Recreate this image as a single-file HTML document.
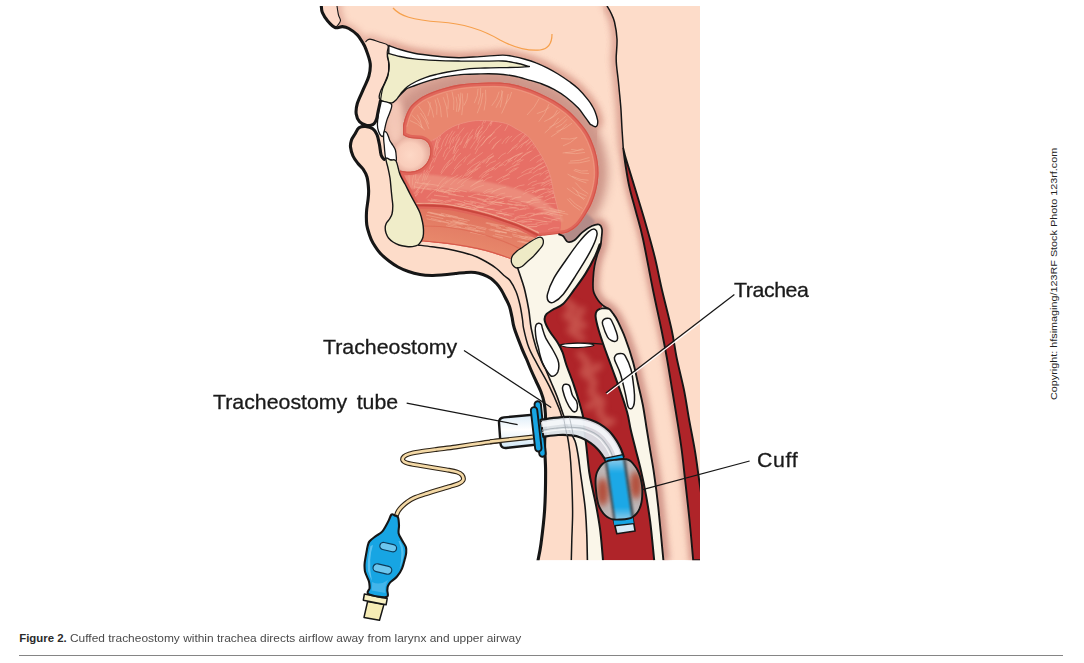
<!DOCTYPE html>
<html><head><meta charset="utf-8"><title>Figure 2</title>
<style>
html,body{margin:0;padding:0;background:#fff;}
body{width:1084px;height:663px;position:relative;overflow:hidden;font-family:"Liberation Sans",sans-serif;}
.lbl{position:absolute;white-space:nowrap;color:#1a1a1a;font-size:20.4px;line-height:1;transform-origin:0 0;transform:scaleX(1.045);-webkit-text-stroke:.3px #1a1a1a;}
.cap{position:absolute;top:632.9px;font-size:11.4px;line-height:1;color:#4a4a4a;white-space:nowrap;transform-origin:0 0;}
.rule{position:absolute;left:19px;top:655px;width:1044px;height:1px;background:#858585;}
.copy{position:absolute;left:1049.1px;top:400.3px;font-size:9.6px;line-height:1;color:#222;white-space:nowrap;transform-origin:0 0;transform:rotate(-90deg) scaleX(1.126);}
</style></head><body>
<svg width="1084" height="663" viewBox="0 0 1084 663" style="position:absolute;left:0;top:0">
<defs>
<clipPath id="cf"><rect x="300" y="6" width="400" height="554.3"/></clipPath>
<clipPath id="cP"><path d="M337 -12 L337 6C337.2 7.5 337.9 12.6 338.5 15C339.1 17.4 340.6 18.8 340.5 20.5C340.4 22.2 338.9 23.8 338 25C337.1 26.2 335.5 27.1 335 27.5C336.2 27.4 340.2 26.4 342.5 26.6C344.8 26.8 346.3 27.1 348.8 28.5C351.3 29.9 355 32.6 357.3 34.9C359.6 37.2 361.6 41.1 362.5 42.3L365.5 42C365.8 41.7 366.6 40.5 367.5 40C368.4 39.5 368.9 38.9 371 39.3C373.1 39.7 377.2 41.2 380 42.2C382.8 43.2 386.6 44.9 387.9 45.4L388.8 45.5C390.7 46.2 395.8 48.2 400 49.5C404.2 50.8 408.5 52.1 414.3 53.2C420.1 54.3 427.6 55.2 435 56C442.4 56.8 451.1 57.6 458.6 57.7C466.1 57.8 472.6 57 480 56.6C487.4 56.2 497.1 55.1 502.8 55.1C508.5 55.1 510.3 55.9 514 56.6C517.7 57.3 521.3 58.2 525 59.2C528.7 60.2 532.3 61.3 536 62.8C539.7 64.2 543.4 66 547.1 67.9C550.8 69.8 554.3 71.7 558 74C561.7 76.3 565.8 79 569.2 81.5C572.6 84 575.2 85.8 578.3 88.8C581.4 91.8 585.5 96.6 587.9 99.6C590.3 102.5 591.3 104.5 592.5 106.5C593.7 108.5 594.2 109.4 595.1 111.7C596 114 597.2 117.9 597.6 120.1C598 122.3 597.6 123.9 597.3 125C596.9 126.1 596.2 126.6 595.5 126.7C594.8 126.8 593.9 126.2 593 125.8C592.1 125.4 590.8 124.6 590.3 124.4L597.7 161.7C597.8 164.1 598.6 171.2 598.4 176C598.1 180.8 597.4 185.6 596.2 190.3C595.1 195 593.4 199.7 591.5 204C589.6 208.3 585.9 214.1 584.8 216.1C583.7 217.6 580.8 222.6 578 225.3C575.2 228 571.5 230.7 568.2 232.2C564.9 233.7 560 233.8 558.4 234.1C559.2 234.4 561.9 235.2 563 236C564.1 236.8 564.2 237.8 565 238.8C565.8 239.8 566.4 241.8 568 242C569.6 242.2 572 241.9 574.4 240.3C576.8 238.7 579.4 234.8 582.3 232.4C585.2 230 589 227.3 591.8 226C594.6 224.7 597.3 223.9 599 224.5C600.7 225.1 601.6 227.1 602 229.3C602.4 231.6 601.6 236.6 601.5 238C601.3 239.3 601.2 243.2 600.5 246C599.8 248.8 598.4 251.3 597.4 254.6C596.4 257.9 595.2 262.1 594.5 266C593.8 269.9 593.4 274.1 593.2 278.3C593 282.5 592.6 287.3 593.4 291C594.2 294.7 596.6 298.1 598.2 300.5C599.8 302.9 601.3 304.1 603 305.5C604.7 306.9 607.6 308.2 608.5 308.7C609.2 309.5 611.5 311.5 613 313.5C614.5 315.5 615.4 316.4 617.4 320.5C619.4 324.6 622.6 331.1 625.2 338C627.8 344.9 630.9 354.2 633 361.7C635.1 369.2 636.3 376 637.9 383.2C639.5 390.4 641.4 397.5 642.8 404.8C644.2 412.1 645.2 419.4 646.4 427C647.6 434.6 648.9 442.4 650.2 450.4C651.5 458.4 652.9 465.3 654.2 474.8C655.6 484.3 656.8 493.1 658.3 507.4C659.8 521.6 662.5 551.5 663.4 560.3L664 580 L694 580 L693.2 560.3C692.6 553.6 690.9 533.5 689.5 520C688.1 506.4 686.3 490.7 685 479C683.7 467.3 683 460 681.7 450C680.4 440 678.6 429 677 419C675.4 409 673.9 400.3 672.2 390C670.5 379.7 668.5 367 666.7 357C664.9 347 663.8 341.2 661.5 330C659.2 318.8 656.1 305.2 653 290C649.9 274.8 645.8 252 643 239C640.2 226 638.3 220.7 636 212C633.7 203.3 631.1 194.8 629.4 187C627.6 179.2 626.5 171.4 625.5 165C624.5 158.6 623.7 151.3 623.3 148.6C623.1 145.3 622.4 135.4 622 129C621.6 122.6 621.4 116.2 621 110C620.6 103.8 619.9 97.3 619.4 92C618.9 86.7 618.5 82.3 618 78C617.5 73.7 616.9 69.5 616.6 66C616.3 62.5 616.1 61.5 616.2 57C616.3 52.5 617.3 44.8 617 39C616.7 33.2 615.5 26.3 614.5 22C613.5 17.7 612.2 15.7 611 13C609.8 10.3 607.7 7.2 607 6L607 -12Z"/></clipPath>
<clipPath id="cO"><path d="M392 102L406.5 88.8C407.9 88.2 411.9 86.7 415 85.5C418.1 84.3 421.8 82.9 425.3 81.8C428.8 80.7 432.3 79.7 436 78.8C439.7 77.9 442.8 77.1 447.5 76.4C452.2 75.7 458.5 74.8 464 74.4C469.5 74 475.2 74 480.7 73.9C486.2 73.8 491.5 73.7 497 74C502.5 74.3 508.4 75 513.9 76C519.4 77 525.3 79 530 80.3C534.7 81.6 538 82.5 542 84C546 85.5 550 87.2 554 89.4C558 91.6 562.2 94.1 566.2 97.2C570.2 100.3 575.1 104.7 578.3 108.1C581.5 111.5 583.5 115 585.5 117.7C587.5 120.4 589.5 123.3 590.3 124.4L597.3 125 L596.5 150 L590 165 L584 200 L570 228 L538 236L430 175 L400 172 L396 160 L390 141 L384 132 L387 117 Z"/></clipPath>
<clipPath id="cPO"><path d="M337 -12 L337 6C337.2 7.5 337.9 12.6 338.5 15C339.1 17.4 340.6 18.8 340.5 20.5C340.4 22.2 338.9 23.8 338 25C337.1 26.2 335.5 27.1 335 27.5C336.2 27.4 340.2 26.4 342.5 26.6C344.8 26.8 346.3 27.1 348.8 28.5C351.3 29.9 355 32.6 357.3 34.9C359.6 37.2 361.6 41.1 362.5 42.3L365.5 42C365.8 41.7 366.6 40.5 367.5 40C368.4 39.5 368.9 38.9 371 39.3C373.1 39.7 377.2 41.2 380 42.2C382.8 43.2 386.6 44.9 387.9 45.4L388.8 45.5C390.7 46.2 395.8 48.2 400 49.5C404.2 50.8 408.5 52.1 414.3 53.2C420.1 54.3 427.6 55.2 435 56C442.4 56.8 451.1 57.6 458.6 57.7C466.1 57.8 472.6 57 480 56.6C487.4 56.2 497.1 55.1 502.8 55.1C508.5 55.1 510.3 55.9 514 56.6C517.7 57.3 521.3 58.2 525 59.2C528.7 60.2 532.3 61.3 536 62.8C539.7 64.2 543.4 66 547.1 67.9C550.8 69.8 554.3 71.7 558 74C561.7 76.3 565.8 79 569.2 81.5C572.6 84 575.2 85.8 578.3 88.8C581.4 91.8 585.5 96.6 587.9 99.6C590.3 102.5 591.3 104.5 592.5 106.5C593.7 108.5 594.2 109.4 595.1 111.7C596 114 597.2 117.9 597.6 120.1C598 122.3 597.6 123.9 597.3 125C596.9 126.1 596.2 126.6 595.5 126.7C594.8 126.8 593.9 126.2 593 125.8C592.1 125.4 590.8 124.6 590.3 124.4L597.7 161.7C597.8 164.1 598.6 171.2 598.4 176C598.1 180.8 597.4 185.6 596.2 190.3C595.1 195 593.4 199.7 591.5 204C589.6 208.3 585.9 214.1 584.8 216.1C583.7 217.6 580.8 222.6 578 225.3C575.2 228 571.5 230.7 568.2 232.2C564.9 233.7 560 233.8 558.4 234.1C559.2 234.4 561.9 235.2 563 236C564.1 236.8 564.2 237.8 565 238.8C565.8 239.8 566.4 241.8 568 242C569.6 242.2 572 241.9 574.4 240.3C576.8 238.7 579.4 234.8 582.3 232.4C585.2 230 589 227.3 591.8 226C594.6 224.7 597.3 223.9 599 224.5C600.7 225.1 601.6 227.1 602 229.3C602.4 231.6 601.6 236.6 601.5 238C601.3 239.3 601.2 243.2 600.5 246C599.8 248.8 598.4 251.3 597.4 254.6C596.4 257.9 595.2 262.1 594.5 266C593.8 269.9 593.4 274.1 593.2 278.3C593 282.5 592.6 287.3 593.4 291C594.2 294.7 596.6 298.1 598.2 300.5C599.8 302.9 601.3 304.1 603 305.5C604.7 306.9 607.6 308.2 608.5 308.7C609.2 309.5 611.5 311.5 613 313.5C614.5 315.5 615.4 316.4 617.4 320.5C619.4 324.6 622.6 331.1 625.2 338C627.8 344.9 630.9 354.2 633 361.7C635.1 369.2 636.3 376 637.9 383.2C639.5 390.4 641.4 397.5 642.8 404.8C644.2 412.1 645.2 419.4 646.4 427C647.6 434.6 648.9 442.4 650.2 450.4C651.5 458.4 652.9 465.3 654.2 474.8C655.6 484.3 656.8 493.1 658.3 507.4C659.8 521.6 662.5 551.5 663.4 560.3L664 580 L694 580 L693.2 560.3C692.6 553.6 690.9 533.5 689.5 520C688.1 506.4 686.3 490.7 685 479C683.7 467.3 683 460 681.7 450C680.4 440 678.6 429 677 419C675.4 409 673.9 400.3 672.2 390C670.5 379.7 668.5 367 666.7 357C664.9 347 663.8 341.2 661.5 330C659.2 318.8 656.1 305.2 653 290C649.9 274.8 645.8 252 643 239C640.2 226 638.3 220.7 636 212C633.7 203.3 631.1 194.8 629.4 187C627.6 179.2 626.5 171.4 625.5 165C624.5 158.6 623.7 151.3 623.3 148.6C623.1 145.3 622.4 135.4 622 129C621.6 122.6 621.4 116.2 621 110C620.6 103.8 619.9 97.3 619.4 92C618.9 86.7 618.5 82.3 618 78C617.5 73.7 616.9 69.5 616.6 66C616.3 62.5 616.1 61.5 616.2 57C616.3 52.5 617.3 44.8 617 39C616.7 33.2 615.5 26.3 614.5 22C613.5 17.7 612.2 15.7 611 13C609.8 10.3 607.7 7.2 607 6L607 -12Z"/><path d="M392 102L406.5 88.8C407.9 88.2 411.9 86.7 415 85.5C418.1 84.3 421.8 82.9 425.3 81.8C428.8 80.7 432.3 79.7 436 78.8C439.7 77.9 442.8 77.1 447.5 76.4C452.2 75.7 458.5 74.8 464 74.4C469.5 74 475.2 74 480.7 73.9C486.2 73.8 491.5 73.7 497 74C502.5 74.3 508.4 75 513.9 76C519.4 77 525.3 79 530 80.3C534.7 81.6 538 82.5 542 84C546 85.5 550 87.2 554 89.4C558 91.6 562.2 94.1 566.2 97.2C570.2 100.3 575.1 104.7 578.3 108.1C581.5 111.5 583.5 115 585.5 117.7C587.5 120.4 589.5 123.3 590.3 124.4L597.3 125 L596.5 150 L590 165 L584 200 L570 228 L538 236L430 175 L400 172 L396 160 L390 141 L384 132 L387 117 Z"/></clipPath>
<clipPath id="cT"><path d="M403 125.5C403.5 123.9 404.6 118.8 405.8 115.8C407 112.8 408.1 109.8 410 107.2C411.9 104.6 414.6 102.2 417.5 100C420.4 97.8 422.9 96.2 427.2 94.3C431.4 92.4 437.3 90.2 443 88.5C448.7 86.8 454.9 85.3 461.6 84.3C468.3 83.3 475.8 82.9 483 82.7C490.2 82.5 498.1 82.2 504.6 82.9C511.1 83.6 516.3 85 522 86.7C527.7 88.4 533.7 90.6 539 92.9C544.3 95.2 549.2 97.7 554 100.6C558.8 103.5 563.5 106.7 567.6 110.1C571.7 113.5 575.1 117 578.5 120.8C581.9 124.6 585.1 128.6 587.7 133C590.3 137.4 592.3 142.2 594 147C595.7 151.8 597 156.9 597.7 161.7C598.4 166.5 598.6 171.2 598.4 176C598.1 180.8 597.4 185.6 596.2 190.3C595.1 195 593.4 199.7 591.5 204C589.6 208.3 585.9 214.1 584.8 216.1C583.7 217.6 580.8 222.6 578 225.3C575.2 228 571.5 230.7 568.2 232.2C564.9 233.7 561.4 233.6 558.4 234.1C555.4 234.6 552.6 234.7 550 235C547.4 235.3 544.8 235.6 542.8 235.8C540.8 236 538.8 236.1 538 236.2L523 247 L511 259C507.3 258.1 499.5 255.2 494 253.5C488.5 251.8 482.3 250.2 477 249C471.7 247.8 466.9 247 462 246.2C457.1 245.4 452 244.6 447.5 244C443 243.4 439.4 243.1 435 242.7C430.6 242.3 423.3 241.7 421 241.5C421.3 240.8 422.6 238.9 423 237C423.4 235.1 423.6 232.5 423.5 230C423.4 227.5 423.1 224.8 422.5 222C421.9 219.2 421.1 215.8 420 213C418.9 210.2 417.7 208.2 416 205C414.3 201.8 411.8 197.5 410 194C408.2 190.5 406.7 187.2 405 184C403.3 180.8 400.8 176.1 400 174.5L400 170.5C400.8 170.7 403 171.3 405 171.5C407 171.7 409.8 171.8 412 171.5C414.2 171.2 416.1 170.8 418 170C419.9 169.2 422 167.8 423.5 166.5C425 165.2 426 164.1 427 162.5C428 160.9 428.9 158.8 429.5 157C430.1 155.2 430.2 153.7 430.3 152C430.4 150.3 430.4 148.7 429.8 147C429.2 145.3 428.4 143.3 427 142C425.6 140.7 424.3 139.7 421.5 139C418.7 138.3 413.1 138.7 410 138C406.9 137.3 404.2 135.5 403 135L403 125.5Z"/></clipPath>
<clipPath id="cTB"><path d="M403 125.5C403.5 123.9 404.6 118.8 405.8 115.8C407 112.8 408.1 109.8 410 107.2C411.9 104.6 414.6 102.2 417.5 100C420.4 97.8 422.9 96.2 427.2 94.3C431.4 92.4 437.3 90.2 443 88.5C448.7 86.8 454.9 85.3 461.6 84.3C468.3 83.3 475.8 82.9 483 82.7C490.2 82.5 498.1 82.2 504.6 82.9C511.1 83.6 516.3 85 522 86.7C527.7 88.4 533.7 90.6 539 92.9C544.3 95.2 549.2 97.7 554 100.6C558.8 103.5 563.5 106.7 567.6 110.1C571.7 113.5 575.1 117 578.5 120.8C581.9 124.6 585.1 128.6 587.7 133C590.3 137.4 592.3 142.2 594 147C595.7 151.8 597 156.9 597.7 161.7C598.4 166.5 598.6 171.2 598.4 176C598.1 180.8 597.4 185.6 596.2 190.3C595.1 195 593.4 199.7 591.5 204C589.6 208.3 585.9 214.1 584.8 216.1C583.7 217.6 580.8 222.6 578 225.3C575.2 228 571.5 230.7 568.2 232.2C564.9 233.7 561.8 233.6 558.4 234.1C555 234.6 551.4 235.1 548 235.3C544.6 235.5 542.3 236.8 538 235.5C533.7 234.2 527.3 229.7 522 227.4C516.7 225.1 511.8 223.5 506 221.5C500.2 219.5 493.5 217.2 487 215.3C480.5 213.4 473.2 211.7 467 210.3C460.8 208.9 455.8 207.8 450 207C444.2 206.2 437.6 205.8 432 205.6C426.4 205.3 419.1 205.5 416.5 205.5L410 194 L400 174.5 L400 170.5C400.8 170.7 403 171.3 405 171.5C407 171.7 409.8 171.8 412 171.5C414.2 171.2 416.1 170.8 418 170C419.9 169.2 422 167.8 423.5 166.5C425 165.2 426 164.1 427 162.5C428 160.9 428.9 158.8 429.5 157C430.1 155.2 430.2 153.7 430.3 152C430.4 150.3 430.4 148.7 429.8 147C429.2 145.3 428.4 143.3 427 142C425.6 140.7 424.3 139.7 421.5 139C418.7 138.3 413.1 138.7 410 138C406.9 137.3 404.2 135.5 403 135L403 125.5Z"/></clipPath>
<clipPath id="cTI"><path d="M429.8 152C429.6 150.6 427.3 145.8 428.6 143.3C429.9 140.9 434.9 139.3 437.7 137.3C440.5 135.3 442.7 133.1 445.2 131.3C447.7 129.5 449.8 128.1 452.8 126.7C455.8 125.3 459.5 124 463.3 123C467.1 122 470.9 121 475.4 120.7C479.9 120.4 485.5 120.5 490.5 121C495.5 121.5 501.2 122.1 505.5 123.4C509.8 124.7 512.3 126.6 516 128.7C519.7 130.8 524.1 132.8 527.5 135.9C530.9 139 533.2 143 536.1 147.3C539 151.6 542.3 156.9 544.7 161.7C547.1 166.5 549 171.2 550.4 176C551.8 180.8 552.3 186 553.3 190.3C554.2 194.6 555.1 198 556.1 201.8C557.1 205.6 558.5 211.3 559 213.2C559.3 215 561.1 220.5 561 224C560.9 227.5 560.6 232.2 558.4 234.1C556.2 236 551.4 235.1 548 235.3C544.6 235.5 542.3 236.8 538 235.5C533.7 234.2 527.3 229.7 522 227.4C516.7 225.1 511.8 223.5 506 221.5C500.2 219.5 493.5 217.2 487 215.3C480.5 213.4 473.2 211.7 467 210.3C460.8 208.9 455.8 207.8 450 207C444.2 206.2 437.6 205.8 432 205.6C426.4 205.3 419.1 205.5 416.5 205.5L410 194 L400 174.5 L400 170.5C400.8 170.7 403 171.3 405 171.5C407 171.7 409.8 171.8 412 171.5C414.2 171.2 416.1 170.8 418 170C419.9 169.2 422 167.8 423.5 166.5C425 165.2 426 164.1 427 162.5C428 160.9 428.9 158.8 429.5 157C430.1 155.2 430.2 153.7 430.3 152C430.4 150.3 429.9 147.8 429.8 147Z"/></clipPath>
<clipPath id="cL"><path d="M600 243.5C599.2 245.6 597.4 251.2 595 256.2C592.6 261.2 588.9 268.1 585.5 273.6C582.1 279.1 578.1 284.4 574.4 289.4C570.7 294.4 567 300.3 563.3 303.7C559.6 307.1 555.2 308.1 552.3 310C549.4 311.9 547.1 313 545.9 314.8C544.6 316.6 544.2 318.4 544.8 321C545.4 323.6 547.1 327.1 549.3 330.7C551.4 334.3 555.5 339.1 557.7 342.7C559.9 346.3 561.2 348.7 562.6 352.4C564 356.1 564.6 359.7 566.4 365C568.2 370.3 571.4 377.9 573.6 384.3C575.8 390.7 578 398 579.6 403.6C581.2 409.2 582.5 413.3 583.3 418C584.1 422.7 584.1 427.5 584.6 432C585.1 436.5 585.4 438.3 586.2 445C587 451.7 588.1 464.3 589.2 472C590.3 479.7 591.7 484.6 593 491C594.3 497.4 595.8 503.6 597 510.4C598.2 517.2 599.4 523.5 600.4 531.8C601.4 540.1 602.6 555.5 603 560.3L654.2 560.3C653.5 553.8 651.6 532.5 650.2 521.6C648.8 510.8 647.5 503.7 646 495.2C644.5 486.7 642.7 478.2 641 470.7C639.3 463.2 637.6 457.2 635.9 450.4C634.2 443.6 632.2 436.3 630.8 430C629.3 423.7 629 419.1 627.2 412.6C625.5 406.1 622.8 398.2 620.3 391C617.8 383.8 615.1 376.7 612.5 369.5C609.9 362.3 606.9 354.5 604.6 348C602.3 341.5 600.2 335.5 598.7 330.3C597.2 325.1 595.9 319.8 595.6 316.6C595.3 313.4 595.9 312.4 596.8 311C597.6 309.6 600.1 308.9 600.7 308.5L603 305.5C602.2 304.7 599.8 302.9 598.2 300.5C596.6 298.1 594.2 294.7 593.4 291C592.6 287.3 593 282.5 593.2 278.3C593.4 274.1 593.8 269.9 594.5 266C595.2 262.1 596.4 257.9 597.4 254.6C598.4 251.3 599.8 248.8 600.5 246C601.2 243.2 601.3 239.3 601.5 238Z"/></clipPath>
<clipPath id="cCuff"><path d="M606.5 461.5C607.9 460.9 609.4 460.6 611 460.3C612.6 460 614.3 459.9 616 459.7C617.7 459.5 619.2 459.4 621 459.3C622.8 459.2 624.9 459 626.5 459.3C628.1 459.6 629.4 460.1 630.8 461.3C632.2 462.5 633.9 464.7 635.1 466.3C636.3 467.9 637.2 469.3 638 471C638.8 472.7 639.5 474.5 640.1 476.5C640.7 478.5 641.2 480.9 641.6 483C642 485.1 642.2 487.2 642.3 489.4C642.4 491.6 642.3 493.9 642.2 496C642.1 498.1 641.9 500.2 641.5 502.3C641.1 504.4 640.4 506.6 639.6 508.5C638.8 510.4 637.7 512.2 636.5 513.7C635.3 515.2 633.9 516.4 632.5 517.2C631.1 518.1 629.8 518.4 627.9 518.8C626 519.2 623.4 519.4 621 519.5C618.6 519.6 615.6 519.8 613.6 519.5C611.6 519.2 610.4 518.7 609 518C607.6 517.3 606.3 516.4 605 515.1C603.7 513.8 602.4 512.1 601.3 510.4C600.2 508.7 599.3 507.1 598.6 505.1C597.9 503.1 597.4 500.6 597 498.5C596.6 496.4 596.4 494.4 596.2 492.2C596 489.9 595.7 487.4 595.6 485C595.5 482.6 595.5 480 595.7 477.9C595.9 475.8 596.3 474.2 596.9 472.5C597.5 470.8 598.4 469.3 599.3 467.9C600.2 466.5 601.3 465.1 602.5 464C603.7 462.9 605.1 462.1 606.5 461.5Z"/></clipPath>
<clipPath id="cSil"><path d="M321.3 6C321.5 7.1 321.3 10.2 322.4 12.7C323.5 15.2 325.6 18.6 327.7 21.1C329.8 23.6 332.5 26.6 335 27.5C337.5 28.4 340.2 26.4 342.5 26.6C344.8 26.8 346.3 27.1 348.8 28.5C351.3 29.9 355 32.6 357.3 34.9C359.6 37.2 361.1 40 362.5 42.3C363.9 44.6 364.4 45.1 365.7 48.6C367 52.1 369.7 58.8 370.2 63.4C370.7 68 370 71.8 368.9 76C367.8 80.2 365.5 84.1 363.6 88.7C361.7 93.3 358.5 99.3 357.3 103.5C356.1 107.7 355.8 111 356.2 114C356.6 117 358 119.9 359.6 121.8C361.2 123.7 364.9 124.7 366 125.3L376 124 L380 110 L382 135 L377 134.7 L372.8 128.8 L365.5 126.4 L359 127.8 L355 134C354.4 135 352.2 137.8 351.5 140C350.8 142.2 350.2 144.3 350.5 147C350.8 149.7 351.8 153.2 353 156C354.2 158.8 356.3 161.3 358 163.5C359.7 165.7 361.5 166.8 363 169C364.5 171.2 366.1 173.5 367 177C367.9 180.5 368.4 186.2 368.6 190C368.8 193.8 368.4 196.3 368 200C367.6 203.7 366.7 207.8 366.5 212C366.3 216.2 366.3 221.2 366.8 225C367.3 228.8 368.5 232 369.5 235C370.5 238 371.2 240 373 243C374.8 246 377.3 250 380 253C382.7 256 386 258.7 389 261C392 263.3 394.8 265.2 398 267C401.2 268.8 404.8 270.2 408.5 271.5C412.2 272.8 416.1 273.8 420 274.5C423.9 275.2 428 275.4 432 275.5C436 275.6 440.1 275.1 444 274.8C447.9 274.5 451.8 273.9 455.5 273.5C459.2 273.1 462.8 272.7 466 272.5C469.2 272.3 472.2 272.2 475 272.5C477.8 272.8 480.3 273.5 483 274.5C485.7 275.5 488.8 277 491 278.5C493.2 280 494.8 281.7 496.5 283.5C498.2 285.3 499.5 287.1 501 289.5C502.5 291.9 504.1 295.2 505.5 298C506.9 300.8 508.4 303.3 509.5 306.5C510.6 309.7 511.2 313.4 512 317C512.8 320.6 512.7 323.2 514.3 328.3C515.9 333.4 519.5 342.5 521.5 347.6C523.5 352.7 524.9 355.3 526.5 359C528.1 362.7 529.4 366.3 531 370C532.6 373.7 534.3 377.3 536 381C537.7 384.7 539.7 388.5 541 392C542.3 395.5 543.3 398.3 544 402C544.7 405.7 545.2 409.3 545.4 414C545.6 418.7 545.3 424.6 545.2 430C545.1 435.4 544.5 439.3 544.6 446.3C544.7 453.3 545.6 461.3 545.6 472C545.6 482.7 545.4 498.4 544.6 510.4C543.8 522.4 542.1 535.4 541 543.7C539.9 552 538.5 557.6 538 560.4L700 560L700 6Z"/></clipPath>
<filter id="b1" x="-20%" y="-20%" width="140%" height="140%"><feGaussianBlur stdDeviation="1"/></filter>
<filter id="b2" x="-20%" y="-20%" width="140%" height="140%"><feGaussianBlur stdDeviation="2"/></filter>
<filter id="b3" x="-20%" y="-20%" width="140%" height="140%"><feGaussianBlur stdDeviation="3"/></filter>
<filter id="b5" x="-30%" y="-30%" width="160%" height="160%"><feGaussianBlur stdDeviation="5"/></filter>
<linearGradient id="gConn" x1="0" y1="0" x2="0" y2="1"><stop offset="0" stop-color="#dcecf8"/><stop offset=".45" stop-color="#ffffff"/><stop offset="1" stop-color="#cfe6f5"/></linearGradient>
<linearGradient id="gBlueTube" x1="0" y1="0" x2="0" y2="1"><stop offset="0" stop-color="#a9d3ea"/><stop offset=".25" stop-color="#1aa8e6"/><stop offset=".75" stop-color="#1aa8e6"/><stop offset="1" stop-color="#b5d6e8"/></linearGradient>
<radialGradient id="gCuff" cx=".5" cy=".5" r=".62"><stop offset="0" stop-color="#b8473d" stop-opacity=".95"/><stop offset=".55" stop-color="#b96a5f" stop-opacity=".95"/><stop offset="1" stop-color="#c9c4c2" stop-opacity="1"/></radialGradient>
<radialGradient id="gPocket" cx=".45" cy=".5" r=".55"><stop offset="0" stop-color="#fdd8c6"/><stop offset=".6" stop-color="#f9cdbb"/><stop offset="1" stop-color="#e3a899"/></radialGradient>
<linearGradient id="gMus" gradientUnits="userSpaceOnUse" x1="440" y1="205" x2="432" y2="246"><stop offset="0" stop-color="#e0705c"/><stop offset=".5" stop-color="#e47f66"/><stop offset="1" stop-color="#e88a6c"/></linearGradient>
</defs>
<g clip-path="url(#cf)">
<path d="M321.3 6C321.5 7.1 321.3 10.2 322.4 12.7C323.5 15.2 325.6 18.6 327.7 21.1C329.8 23.6 332.5 26.6 335 27.5C337.5 28.4 340.2 26.4 342.5 26.6C344.8 26.8 346.3 27.1 348.8 28.5C351.3 29.9 355 32.6 357.3 34.9C359.6 37.2 361.1 40 362.5 42.3C363.9 44.6 364.4 45.1 365.7 48.6C367 52.1 369.7 58.8 370.2 63.4C370.7 68 370 71.8 368.9 76C367.8 80.2 365.5 84.1 363.6 88.7C361.7 93.3 358.5 99.3 357.3 103.5C356.1 107.7 355.8 111 356.2 114C356.6 117 358 119.9 359.6 121.8C361.2 123.7 364.9 124.7 366 125.3L376 124 L380 110 L382 135 L377 134.7 L372.8 128.8 L365.5 126.4 L359 127.8 L355 134C354.4 135 352.2 137.8 351.5 140C350.8 142.2 350.2 144.3 350.5 147C350.8 149.7 351.8 153.2 353 156C354.2 158.8 356.3 161.3 358 163.5C359.7 165.7 361.5 166.8 363 169C364.5 171.2 366.1 173.5 367 177C367.9 180.5 368.4 186.2 368.6 190C368.8 193.8 368.4 196.3 368 200C367.6 203.7 366.7 207.8 366.5 212C366.3 216.2 366.3 221.2 366.8 225C367.3 228.8 368.5 232 369.5 235C370.5 238 371.2 240 373 243C374.8 246 377.3 250 380 253C382.7 256 386 258.7 389 261C392 263.3 394.8 265.2 398 267C401.2 268.8 404.8 270.2 408.5 271.5C412.2 272.8 416.1 273.8 420 274.5C423.9 275.2 428 275.4 432 275.5C436 275.6 440.1 275.1 444 274.8C447.9 274.5 451.8 273.9 455.5 273.5C459.2 273.1 462.8 272.7 466 272.5C469.2 272.3 472.2 272.2 475 272.5C477.8 272.8 480.3 273.5 483 274.5C485.7 275.5 488.8 277 491 278.5C493.2 280 494.8 281.7 496.5 283.5C498.2 285.3 499.5 287.1 501 289.5C502.5 291.9 504.1 295.2 505.5 298C506.9 300.8 508.4 303.3 509.5 306.5C510.6 309.7 511.2 313.4 512 317C512.8 320.6 512.7 323.2 514.3 328.3C515.9 333.4 519.5 342.5 521.5 347.6C523.5 352.7 524.9 355.3 526.5 359C528.1 362.7 529.4 366.3 531 370C532.6 373.7 534.3 377.3 536 381C537.7 384.7 539.7 388.5 541 392C542.3 395.5 543.3 398.3 544 402C544.7 405.7 545.2 409.3 545.4 414C545.6 418.7 545.3 424.6 545.2 430C545.1 435.4 544.5 439.3 544.6 446.3C544.7 453.3 545.6 461.3 545.6 472C545.6 482.7 545.4 498.4 544.6 510.4C543.8 522.4 542.1 535.4 541 543.7C539.9 552 538.5 557.6 538 560.4L700 560L700 6Z" fill="#fddcc9"/>
<g clip-path="url(#cP)">
<path d="M337 -12 L337 6C337.2 7.5 337.9 12.6 338.5 15C339.1 17.4 340.6 18.8 340.5 20.5C340.4 22.2 338.9 23.8 338 25C337.1 26.2 335.5 27.1 335 27.5C336.2 27.4 340.2 26.4 342.5 26.6C344.8 26.8 346.3 27.1 348.8 28.5C351.3 29.9 355 32.6 357.3 34.9C359.6 37.2 361.6 41.1 362.5 42.3L365.5 42C365.8 41.7 366.6 40.5 367.5 40C368.4 39.5 368.9 38.9 371 39.3C373.1 39.7 377.2 41.2 380 42.2C382.8 43.2 386.6 44.9 387.9 45.4L388.8 45.5C390.7 46.2 395.8 48.2 400 49.5C404.2 50.8 408.5 52.1 414.3 53.2C420.1 54.3 427.6 55.2 435 56C442.4 56.8 451.1 57.6 458.6 57.7C466.1 57.8 472.6 57 480 56.6C487.4 56.2 497.1 55.1 502.8 55.1C508.5 55.1 510.3 55.9 514 56.6C517.7 57.3 521.3 58.2 525 59.2C528.7 60.2 532.3 61.3 536 62.8C539.7 64.2 543.4 66 547.1 67.9C550.8 69.8 554.3 71.7 558 74C561.7 76.3 565.8 79 569.2 81.5C572.6 84 575.2 85.8 578.3 88.8C581.4 91.8 585.5 96.6 587.9 99.6C590.3 102.5 591.3 104.5 592.5 106.5C593.7 108.5 594.2 109.4 595.1 111.7C596 114 597.2 117.9 597.6 120.1C598 122.3 597.6 123.9 597.3 125C596.9 126.1 596.2 126.6 595.5 126.7C594.8 126.8 593.9 126.2 593 125.8C592.1 125.4 590.8 124.6 590.3 124.4L597.7 161.7C597.8 164.1 598.6 171.2 598.4 176C598.1 180.8 597.4 185.6 596.2 190.3C595.1 195 593.4 199.7 591.5 204C589.6 208.3 585.9 214.1 584.8 216.1C583.7 217.6 580.8 222.6 578 225.3C575.2 228 571.5 230.7 568.2 232.2C564.9 233.7 560 233.8 558.4 234.1C559.2 234.4 561.9 235.2 563 236C564.1 236.8 564.2 237.8 565 238.8C565.8 239.8 566.4 241.8 568 242C569.6 242.2 572 241.9 574.4 240.3C576.8 238.7 579.4 234.8 582.3 232.4C585.2 230 589 227.3 591.8 226C594.6 224.7 597.3 223.9 599 224.5C600.7 225.1 601.6 227.1 602 229.3C602.4 231.6 601.6 236.6 601.5 238C601.3 239.3 601.2 243.2 600.5 246C599.8 248.8 598.4 251.3 597.4 254.6C596.4 257.9 595.2 262.1 594.5 266C593.8 269.9 593.4 274.1 593.2 278.3C593 282.5 592.6 287.3 593.4 291C594.2 294.7 596.6 298.1 598.2 300.5C599.8 302.9 601.3 304.1 603 305.5C604.7 306.9 607.6 308.2 608.5 308.7C609.2 309.5 611.5 311.5 613 313.5C614.5 315.5 615.4 316.4 617.4 320.5C619.4 324.6 622.6 331.1 625.2 338C627.8 344.9 630.9 354.2 633 361.7C635.1 369.2 636.3 376 637.9 383.2C639.5 390.4 641.4 397.5 642.8 404.8C644.2 412.1 645.2 419.4 646.4 427C647.6 434.6 648.9 442.4 650.2 450.4C651.5 458.4 652.9 465.3 654.2 474.8C655.6 484.3 656.8 493.1 658.3 507.4C659.8 521.6 662.5 551.5 663.4 560.3L664 580 L694 580 L693.2 560.3C692.6 553.6 690.9 533.5 689.5 520C688.1 506.4 686.3 490.7 685 479C683.7 467.3 683 460 681.7 450C680.4 440 678.6 429 677 419C675.4 409 673.9 400.3 672.2 390C670.5 379.7 668.5 367 666.7 357C664.9 347 663.8 341.2 661.5 330C659.2 318.8 656.1 305.2 653 290C649.9 274.8 645.8 252 643 239C640.2 226 638.3 220.7 636 212C633.7 203.3 631.1 194.8 629.4 187C627.6 179.2 626.5 171.4 625.5 165C624.5 158.6 623.7 151.3 623.3 148.6C623.1 145.3 622.4 135.4 622 129C621.6 122.6 621.4 116.2 621 110C620.6 103.8 619.9 97.3 619.4 92C618.9 86.7 618.5 82.3 618 78C617.5 73.7 616.9 69.5 616.6 66C616.3 62.5 616.1 61.5 616.2 57C616.3 52.5 617.3 44.8 617 39C616.7 33.2 615.5 26.3 614.5 22C613.5 17.7 612.2 15.7 611 13C609.8 10.3 607.7 7.2 607 6L607 -12Z" fill="none" stroke="#e0a596" stroke-width="9" opacity=".75" filter="url(#b3)"/>
<path d="M388.8 45.5C390.7 46.2 395.8 48.2 400 49.5C404.2 50.8 408.5 52.1 414.3 53.2C420.1 54.3 427.6 55.2 435 56C442.4 56.8 451.1 57.6 458.6 57.7C466.1 57.8 472.6 57 480 56.6C487.4 56.2 497.1 55.1 502.8 55.1C508.5 55.1 510.3 55.9 514 56.6C517.7 57.3 521.3 58.2 525 59.2C528.7 60.2 532.3 61.3 536 62.8C539.7 64.2 543.4 66 547.1 67.9C550.8 69.8 554.3 71.7 558 74C561.7 76.3 565.8 79 569.2 81.5C572.6 84 575.2 85.8 578.3 88.8C581.4 91.8 585.5 96.6 587.9 99.6C590.3 102.5 591.3 104.5 592.5 106.5C593.7 108.5 594.2 109.4 595.1 111.7C596 114 597.2 117.9 597.6 120.1C598 122.3 597.3 124.2 597.3 125" fill="none" stroke="#d69484" stroke-width="9" opacity=".55" filter="url(#b3)"/>
<path d="M582.3 232.4C583.9 231.3 589 227.3 591.8 226C594.6 224.7 597.3 223.9 599 224.5C600.7 225.1 601.6 227.1 602 229.3C602.4 231.6 601.8 235.2 601.5 238C601.2 240.8 601.2 243.2 600.5 246C599.8 248.8 598.4 251.3 597.4 254.6C596.4 257.9 595.2 262.1 594.5 266C593.8 269.9 593.4 274.1 593.2 278.3C593 282.5 592.6 287.3 593.4 291C594.2 294.7 596.6 298.1 598.2 300.5C599.8 302.9 601.3 304.1 603 305.5C604.7 306.9 606.8 307.4 608.5 308.7C610.2 310 611.5 311.5 613 313.5C614.5 315.5 615.4 316.4 617.4 320.5C619.4 324.6 622.6 331.1 625.2 338C627.8 344.9 630.9 354.2 633 361.7C635.1 369.2 636.3 376 637.9 383.2C639.5 390.4 641.4 397.5 642.8 404.8C644.2 412.1 645.2 419.4 646.4 427C647.6 434.6 648.9 442.4 650.2 450.4C651.5 458.4 652.9 465.3 654.2 474.8C655.6 484.3 656.8 493.1 658.3 507.4C659.8 521.6 662.5 551.5 663.4 560.3" fill="none" stroke="#c98a80" stroke-width="12" opacity=".7" filter="url(#b3)"/>
<path d="M693.2 560.3C692.6 553.6 690.9 533.5 689.5 520C688.1 506.4 686.3 490.7 685 479C683.7 467.3 683 460 681.7 450C680.4 440 678.6 429 677 419C675.4 409 673.9 400.3 672.2 390C670.5 379.7 668.5 367 666.7 357C664.9 347 663.8 341.2 661.5 330C659.2 318.8 656.1 305.2 653 290C649.9 274.8 645.8 252 643 239C640.2 226 638.3 220.7 636 212C633.7 203.3 631.1 194.8 629.4 187C627.6 179.2 626.5 171.4 625.5 165C624.5 158.6 623.7 151.3 623.3 148.6" fill="none" stroke="#d08f84" stroke-width="7" opacity=".5" filter="url(#b2)"/>
<path d="M623.3 148.6C623.1 145.3 622.4 135.4 622 129C621.6 122.6 621.4 116.2 621 110C620.6 103.8 619.9 97.3 619.4 92C618.9 86.7 618.5 82.3 618 78C617.5 73.7 616.9 69.5 616.6 66C616.3 62.5 616.1 61.5 616.2 57C616.3 52.5 617.3 44.8 617 39C616.7 33.2 615.5 26.3 614.5 22C613.5 17.7 612.2 15.7 611 13C609.8 10.3 607.7 7.2 607 6" fill="none" stroke="#d89c8e" stroke-width="9" opacity=".5" filter="url(#b3)"/>
</g>
<g clip-path="url(#cPO)">
<path d="M392 102L406.5 88.8C407.9 88.2 411.9 86.7 415 85.5C418.1 84.3 421.8 82.9 425.3 81.8C428.8 80.7 432.3 79.7 436 78.8C439.7 77.9 442.8 77.1 447.5 76.4C452.2 75.7 458.5 74.8 464 74.4C469.5 74 475.2 74 480.7 73.9C486.2 73.8 491.5 73.7 497 74C502.5 74.3 508.4 75 513.9 76C519.4 77 525.3 79 530 80.3C534.7 81.6 538 82.5 542 84C546 85.5 550 87.2 554 89.4C558 91.6 562.2 94.1 566.2 97.2C570.2 100.3 575.1 104.7 578.3 108.1C581.5 111.5 583.5 115 585.5 117.7C587.5 120.4 589.5 123.3 590.3 124.4L597.3 125 L596.5 150 L590 165 L584 200 L570 228 L538 236L430 175 L400 172 L396 160 L390 141 L384 132 L387 117 Z" fill="#e2ae9f"/>
<path d="M403 125.5C403.5 123.9 404.6 118.8 405.8 115.8C407 112.8 408.1 109.8 410 107.2C411.9 104.6 414.6 102.2 417.5 100C420.4 97.8 422.9 96.2 427.2 94.3C431.4 92.4 437.3 90.2 443 88.5C448.7 86.8 454.9 85.3 461.6 84.3C468.3 83.3 475.8 82.9 483 82.7C490.2 82.5 498.1 82.2 504.6 82.9C511.1 83.6 516.3 85 522 86.7C527.7 88.4 533.7 90.6 539 92.9C544.3 95.2 549.2 97.7 554 100.6C558.8 103.5 563.5 106.7 567.6 110.1C571.7 113.5 575.1 117 578.5 120.8C581.9 124.6 585.1 128.6 587.7 133C590.3 137.4 592.3 142.2 594 147C595.7 151.8 597 156.9 597.7 161.7C598.4 166.5 598.6 171.2 598.4 176C598.1 180.8 597.4 185.6 596.2 190.3C595.1 195 593.4 199.7 591.5 204C589.6 208.3 585.9 214.1 584.8 216.1C583.7 218.1 585.9 214.6 584.8 216.1C583.7 217.6 580.8 222.6 578 225.3C575.2 228 569.8 231 568.2 232.2" fill="none" stroke="#c48b80" stroke-width="20" opacity=".7" filter="url(#b5)"/>
<ellipse cx="395" cy="121" rx="9" ry="23" fill="#f8cdbc" opacity=".85" filter="url(#b3)"/>
<path d="M558 230 L575 220 L584 211 L595 221 L590 232 L578 246 L564 246Z" fill="#b38b88" filter="url(#b1)"/>
</g>
<circle cx="412" cy="155" r="18.5" fill="url(#gPocket)"/>
<path d="M321.3 6C321.5 7.1 321.3 10.2 322.4 12.7C323.5 15.2 325.6 18.6 327.7 21.1C329.8 23.6 333.8 26.4 335 27.5L338 25 L340.5 20.5 L338.5 15 L337 6Z" fill="#fdd9c8"/>
<path d="M362.5 42.3C363 43.3 364.4 45.1 365.7 48.6C367 52.1 369.7 58.8 370.2 63.4C370.7 68 370 71.8 368.9 76C367.8 80.2 365.5 84.1 363.6 88.7C361.7 93.3 358.5 99.3 357.3 103.5C356.1 107.7 355.8 111 356.2 114C356.6 117 358 119.9 359.6 121.8C361.2 123.7 364.9 124.7 366 125.3L371 125.3 L374.2 123.5C374.6 122.8 376 120.9 376.6 119C377.2 117.1 377.5 114.2 378 112C378.5 109.8 379 107.5 379.4 105.7C379.8 103.9 379.9 103.8 380.4 101C380.9 98.2 381.4 92.9 382.6 88.7C383.9 84.5 386.9 80.2 387.9 76C388.9 71.8 388.7 67.3 388.6 63.4C388.5 59.5 387.3 55.8 387.2 52.8C387.1 49.8 389.1 47.2 387.9 45.4C386.7 43.6 382.8 43.2 380 42.2C377.2 41.2 373.1 39.7 371 39.3C368.9 38.9 368.4 39.5 367.5 40C366.6 40.5 365.8 41.7 365.5 42Z" fill="#fddccb"/>
<path d="M623.3 148.6C623.7 151.3 624.5 158.6 625.5 165C626.5 171.4 627.6 179.2 629.4 187C631.1 194.8 633.7 203.3 636 212C638.3 220.7 640.2 226 643 239C645.8 252 649.9 274.8 653 290C656.1 305.2 659.2 318.8 661.5 330C663.8 341.2 664.9 347 666.7 357C668.5 367 670.5 379.7 672.2 390C673.9 400.3 675.4 409 677 419C678.6 429 680.4 440 681.7 450C683 460 683.7 467.3 685 479C686.3 490.7 688.1 506.4 689.5 520C690.9 533.5 692.6 553.6 693.2 560.3L702 560.3 L702 500C701.5 496.5 700.2 487.3 699 479C697.8 470.7 696.5 460 694.8 450C693.1 440 690.8 429 689 419C687.2 409 686.1 400.3 684 390C681.9 379.7 678.5 367 676.5 357C674.5 347 674.1 341.2 671.7 330C669.3 318.8 664.8 302 662 290C659.2 278 657.5 268.2 655 258C652.5 247.8 649.3 236.8 647 228.5C644.7 220.2 643.1 214.9 641 208C638.9 201.1 637.1 195.2 634.6 187C632.1 178.8 627.9 165.4 626 159C624.1 152.6 623.8 150.3 623.3 148.6Z" fill="#af2429" stroke="#161616" stroke-width="1.9" stroke-linejoin="round"/>
<path d="M403 125.5C403.5 123.9 404.6 118.8 405.8 115.8C407 112.8 408.1 109.8 410 107.2C411.9 104.6 414.6 102.2 417.5 100C420.4 97.8 422.9 96.2 427.2 94.3C431.4 92.4 437.3 90.2 443 88.5C448.7 86.8 454.9 85.3 461.6 84.3C468.3 83.3 475.8 82.9 483 82.7C490.2 82.5 498.1 82.2 504.6 82.9C511.1 83.6 516.3 85 522 86.7C527.7 88.4 533.7 90.6 539 92.9C544.3 95.2 549.2 97.7 554 100.6C558.8 103.5 563.5 106.7 567.6 110.1C571.7 113.5 575.1 117 578.5 120.8C581.9 124.6 585.1 128.6 587.7 133C590.3 137.4 592.3 142.2 594 147C595.7 151.8 597 156.9 597.7 161.7C598.4 166.5 598.6 171.2 598.4 176C598.1 180.8 597.4 185.6 596.2 190.3C595.1 195 593.4 199.7 591.5 204C589.6 208.3 585.9 214.1 584.8 216.1C583.7 217.6 580.8 222.6 578 225.3C575.2 228 571.5 230.7 568.2 232.2C564.9 233.7 561.4 233.6 558.4 234.1C555.4 234.6 552.6 234.7 550 235C547.4 235.3 544.8 235.6 542.8 235.8C540.8 236 538.8 236.1 538 236.2L523 247 L511 259C507.3 258.1 499.5 255.2 494 253.5C488.5 251.8 482.3 250.2 477 249C471.7 247.8 466.9 247 462 246.2C457.1 245.4 452 244.6 447.5 244C443 243.4 439.4 243.1 435 242.7C430.6 242.3 423.3 241.7 421 241.5C421.3 240.8 422.6 238.9 423 237C423.4 235.1 423.6 232.5 423.5 230C423.4 227.5 423.1 224.8 422.5 222C421.9 219.2 421.1 215.8 420 213C418.9 210.2 417.7 208.2 416 205C414.3 201.8 411.8 197.5 410 194C408.2 190.5 406.7 187.2 405 184C403.3 180.8 400.8 176.1 400 174.5L400 170.5C400.8 170.7 403 171.3 405 171.5C407 171.7 409.8 171.8 412 171.5C414.2 171.2 416.1 170.8 418 170C419.9 169.2 422 167.8 423.5 166.5C425 165.2 426 164.1 427 162.5C428 160.9 428.9 158.8 429.5 157C430.1 155.2 430.2 153.7 430.3 152C430.4 150.3 430.4 148.7 429.8 147C429.2 145.3 428.4 143.3 427 142C425.6 140.7 424.3 139.7 421.5 139C418.7 138.3 413.1 138.7 410 138C406.9 137.3 404.2 135.5 403 135L403 125.5Z" fill="#e9866e"/>
<g clip-path="url(#cT)">
<g clip-path="url(#cTB)"><path d="M410.2 120.6Q417.9 123.2 424.5 129.7 M411.9 115.2Q418.3 119.8 422.8 127.9 M417.5 115Q421.1 120 421.9 127.7 M420.6 113.2Q426.1 119.5 428.8 128.5 M418.7 106.2Q425 113.7 428.5 124 M427.9 101.1Q432.6 108.2 433.7 117.2 M430.2 102.6Q431 108.5 428 115.8 M435.2 99.9Q437.9 106.4 436.8 114.3 M437.5 98.1Q441.4 106.7 441.4 116.8 M443.4 97.6Q447.4 106.6 447.7 117.1 M446.9 93.6Q449.4 100.8 447.9 108.9 M452.1 91.8Q454.9 100.3 453.7 109.6 M456.1 97Q458.2 103.7 456.4 111.4 M458.3 94.3Q461 101.7 459.8 109.9 M460.8 93Q461.4 101.9 458.2 111.7 M462.3 93.8Q464.1 104.2 461.8 114.8 M467.7 93.6Q468 99.2 464.3 105.1 M478.1 89Q478.3 95.7 474.5 102.8 M480.7 88.4Q481.5 96.2 478.2 104.2 M482.9 93.4Q482.1 103.2 477.4 113 M485.6 90.2Q486.9 100.2 484.2 110.1 M499.1 92Q497.6 98.8 492 105.5 M501.8 90.5Q503.1 98.8 500.4 107.1 M502.8 91.3Q501.4 99.8 496.2 107.5 M508.2 94.4Q506.9 104.2 501.8 113.2 M511.6 92.4Q510.7 98.4 505.9 103.5 M539.1 98.8Q534.9 107.7 527.2 114.8 M548.8 104.5Q545.7 113.9 539 121.4 M549.2 107.5Q544.8 111.7 537.2 113.5 M557.3 110.4Q555.2 115.8 549.8 118.8 M559.6 111.9Q553.7 117.8 544.6 121.4 M558.5 118.2Q553.4 126.6 545 132.7 M565.5 116.6Q559 123.4 549.6 127.3 M566.8 119.6Q562.9 125 556.1 127.5 M566.5 124.3Q560.5 131.8 551.6 136.5 M571.7 123.4Q565.7 128.8 556.9 131.5 M576.5 137.6Q571.1 143.3 563.3 145.8 M577 137.8Q570 140 561.4 138.6 M582.4 148.8Q573.6 152.8 563 153 M583.7 149.6Q578.1 151.5 571.5 149.5 M584.6 152.5Q575.6 154.7 565.6 153 M589.1 157.6Q580.2 161.3 570.4 161.1 M589.4 160.7Q579.6 163.8 568.9 163.1 M587.5 170.8Q581.3 172.1 574.9 169.4 M588.7 173.6Q581.4 174.1 574 170.6 M588.1 180.3Q579.8 180.3 572.2 176.4 M586.1 182.9Q576.7 180.6 567.9 174.3 M587.9 193.6Q581 190.1 575.5 182.8 M586.3 196.1Q578.9 193.8 572.7 187.7 M584.9 198.7Q575.4 195.4 567.1 188.4 M583.9 199.8Q579.1 196.9 576.2 190.6 M582.1 208.3Q574.8 205 569.6 198.3 M579.8 210.2Q572.6 206.4 567.4 199.1" fill="none" stroke="#f5b99e" stroke-width=".8" opacity=".6" stroke-linecap="round"/></g>
<path d="M429.8 152C429.6 150.6 427.3 145.8 428.6 143.3C429.9 140.9 434.9 139.3 437.7 137.3C440.5 135.3 442.7 133.1 445.2 131.3C447.7 129.5 449.8 128.1 452.8 126.7C455.8 125.3 459.5 124 463.3 123C467.1 122 470.9 121 475.4 120.7C479.9 120.4 485.5 120.5 490.5 121C495.5 121.5 501.2 122.1 505.5 123.4C509.8 124.7 512.3 126.6 516 128.7C519.7 130.8 524.1 132.8 527.5 135.9C530.9 139 533.2 143 536.1 147.3C539 151.6 542.3 156.9 544.7 161.7C547.1 166.5 549 171.2 550.4 176C551.8 180.8 552.3 186 553.3 190.3C554.2 194.6 555.1 198 556.1 201.8C557.1 205.6 558.5 211.3 559 213.2C559.3 215 561.1 220.5 561 224C560.9 227.5 560.6 232.2 558.4 234.1C556.2 236 551.4 235.1 548 235.3C544.6 235.5 542.3 236.8 538 235.5C533.7 234.2 527.3 229.7 522 227.4C516.7 225.1 511.8 223.5 506 221.5C500.2 219.5 493.5 217.2 487 215.3C480.5 213.4 473.2 211.7 467 210.3C460.8 208.9 455.8 207.8 450 207C444.2 206.2 437.6 205.8 432 205.6C426.4 205.3 419.1 205.5 416.5 205.5L410 194 L400 174.5 L400 170.5C400.8 170.7 403 171.3 405 171.5C407 171.7 409.8 171.8 412 171.5C414.2 171.2 416.1 170.8 418 170C419.9 169.2 422 167.8 423.5 166.5C425 165.2 426 164.1 427 162.5C428 160.9 428.9 158.8 429.5 157C430.1 155.2 430.2 153.7 430.3 152C430.4 150.3 429.9 147.8 429.8 147Z" fill="#e76f66"/>
<path d="M429.8 152C429.6 150.6 427.3 145.8 428.6 143.3C429.9 140.9 434.9 139.3 437.7 137.3C440.5 135.3 442.7 133.1 445.2 131.3C447.7 129.5 449.8 128.1 452.8 126.7C455.8 125.3 459.5 124 463.3 123C467.1 122 470.9 121 475.4 120.7C479.9 120.4 485.5 120.5 490.5 121C495.5 121.5 501.2 122.1 505.5 123.4C509.8 124.7 512.3 126.6 516 128.7C519.7 130.8 524.1 132.8 527.5 135.9C530.9 139 533.2 143 536.1 147.3C539 151.6 542.3 156.9 544.7 161.7C547.1 166.5 549 171.2 550.4 176C551.8 180.8 552.3 186 553.3 190.3C554.2 194.6 555.1 198 556.1 201.8C557.1 205.6 558.5 211.3 559 213.2" fill="none" stroke="#ee9b8a" stroke-width="1" opacity=".6"/>
<g clip-path="url(#cTI)"><path d="M527.9 130.5Q530.9 125.6 536 123.1 M447.8 209.1Q454.1 206.3 461 206.7 M524.1 225.7Q530.4 223.4 537 224.3 M484.9 199.7Q490.7 196.1 497.5 195.6 M479.5 229.1Q487.6 226.8 496 227.7 M445 184Q450.5 178.2 457.9 175 M425.7 132.4Q424.5 127.4 426.4 122.8 M442 126.6Q442.7 118.9 446.4 112 M545.7 136.2Q550.6 130.8 557.3 127.9 M426.6 222.2Q434.6 219.4 443 219.7 M466.9 175.5Q472.7 170 480.2 167.2 M429.5 168.9Q430.4 162.9 434.2 158.2 M434.9 155.6Q435.3 150.7 438.5 147.2 M491.5 170Q494.8 164.9 500.2 162.2 M502.6 178.4Q508.6 172.4 516.5 168.9 M528.6 232.7Q532.9 230.4 537.8 231.3 M527.1 149.9Q530.6 144.6 536.3 141.6 M548 214.6Q552.6 212 557.9 212.4 M549.2 185.3Q553.4 182.3 558.5 182.3 M413.1 199.2Q414.8 194.5 419.1 191.7 M552.3 192.9Q556.6 190.2 561.7 190.6 M539.3 125.9Q543.3 120.7 549.2 118.1 M457.6 183.3Q461.6 179.1 467.2 177.7 M424.4 180.2Q424.9 175 428.3 171.1 M429.5 123.9Q428.1 118.1 429.9 112.5 M452.2 207.6Q458 204.4 464.7 204.2 M432.1 158.9Q431.8 153.2 434.6 148.2 M406.4 204.5Q408.6 199.5 413.2 196.5 M479 228.3Q485.1 226.1 491.4 227.2 M482.2 216.5Q488.5 214.1 495.2 214.8 M512.7 233.9Q519.8 231.7 527.3 232.7 M504.5 165.8Q507.3 161.7 512.1 160.1 M424.5 126.3Q423.6 120.7 425.8 115.4 M429.8 128Q429.9 119.8 433.1 112.3 M509.9 151.3Q513 146.2 518.2 143.5 M476.6 136.6Q478.3 131.1 482.7 127.3 M556 232.8Q564 230 572.5 230.3 M452.9 160.1Q454.3 154 458.5 149.4 M479 177.3Q483.2 172.1 489.3 169.3 M404.8 149.2Q401.7 143.7 401.6 137.4 M410.6 120.7Q408.1 115.5 408.9 109.9 M496.5 180.4Q502.3 176 509.5 174.5 M517.1 221.7Q525.3 219 533.8 219.4 M427.6 203.5Q431.5 200.3 436.4 200.2 M536 223.2Q543.5 220.9 551.4 221.8 M426 179.8Q428.3 172.1 433.5 166 M531.1 215.5Q538.9 212.9 547.1 213.4 M511.9 199.8Q515.7 196.7 520.6 196.7 M425 160.6Q424.6 152.6 427.3 145 M492.2 192.1Q498.5 188.1 505.8 187.1 M481.3 118.4Q484.1 111.3 489.6 105.9 M483.5 181.2Q486.9 177.5 491.9 176.7 M520.4 147.8Q523.2 142.7 528.3 139.9 M519.2 142.2Q524.9 135.8 532.5 131.9 M482 163.1Q486.4 157.1 492.9 153.5 M525.2 190.8Q529.3 187.8 534.3 187.8 M427.3 148Q427.1 142 430.1 136.9 M493.7 119.5Q494.9 113.8 498.9 109.6 M510.2 199.7Q515.3 196.8 521.2 196.9 M485.6 172.8Q488.7 168.7 493.7 167.1 M545.2 141.5Q551.5 136 559.4 133.2 M406.8 172.2Q405.2 163.8 406.8 155.4 M475 149.7Q478.5 142 484.6 136.2 M437.3 186.6Q440.5 180.6 446.1 176.8 M554.5 133.6Q559.1 128.7 565.4 126.4 M544.1 201Q551.3 196.9 559.5 195.9 M480.8 120.9Q481.9 114.4 485.9 109.1 M475.2 153.6Q477.4 148 482.2 144.2 M453.9 217.1Q461.1 214.4 468.8 214.8 M536.6 132.2Q541.6 126.6 548.5 123.6 M546.4 152.2Q550.5 147.4 556.4 145.3 M561.8 187.5Q567 183.8 573.4 183 M447.5 123.7Q447.4 115.7 450.4 108.3 M449.1 228.4Q455.4 225.9 462.1 226.5 M434 162.1Q436.5 154.3 441.8 148 M532.3 192.4Q540 189 548.4 188.7 M490.8 202.9Q497.1 198.7 504.6 197.5 M475.2 206.8Q480.5 204.2 486.3 204.7 M411.7 227.4Q417.4 225.1 423.4 225.9 M451 205.2Q456.3 202.8 462 203.5 M507.6 153.5Q511.4 148.5 517.2 145.9 M430.4 137.1Q429.7 128.8 432.1 120.9 M482.5 144Q487.4 136.8 494.6 132 M475.1 134.5Q476 129.4 479.7 125.9 M458 128.7Q458.4 123 461.8 118.3 M494 222.7Q499.9 220.3 506.2 221.1 M486.8 162.5Q489.2 158.1 493.8 156.1 M447.8 232.2Q454.6 229.8 461.8 230.5 M540.3 143.5Q543.5 138.7 548.7 136.4 M467.2 170.6Q472.6 164.7 480 161.4 M541.9 120.6Q545.4 113.9 551.3 109.3 M545.5 173.8Q549 170.5 553.7 170.2 M465.9 227.4Q474.1 225.1 482.6 226 M443.3 130.9Q443 124.1 445.9 117.9 M511.8 229.1Q519.1 226.7 526.8 227.5 M476.3 183.1Q481.4 177.2 488.5 173.9 M440.7 226.6Q445.5 224.3 450.7 225.2 M443.8 193.1Q447.3 189.3 452.4 188.3 M415.1 179.9Q415 173.6 418.1 168.1 M439.3 188.9Q442.2 183.7 447.3 180.7 M476.8 231.2Q483 229 489.5 230.1 M441.1 147.2Q443 139.9 447.8 134.1 M452.6 120.6Q453.3 113.2 457 106.9 M470.4 148.4Q474.3 141 480.7 135.6 M439.8 122Q439.3 115.7 441.9 109.8 M511.8 141.4Q516.6 135.4 523.4 132 M483.8 142.2Q486.8 137.1 492 134.2 M533.6 145.2Q538.2 139.1 544.9 135.3 M450.6 230.3Q455.7 227.9 461.3 228.7 M469.9 196.5Q474.4 193.6 479.7 193.8 M466.2 143.1Q468.1 138.2 472.6 135.3 M412.2 125.1Q409.7 117.2 410.4 109 M543.6 204.5Q549.3 202.4 555.2 203.6 M433.3 228.4Q440.1 225.7 447.4 226.1 M463.8 162.1Q465.8 157.1 470.4 154.1 M404.5 151Q401.2 143.2 401.1 134.7 M423.5 231.8Q431 229.2 439 229.7 M533.9 169Q538.2 164.1 544.4 161.8 M462.9 226.5Q470.7 223.8 478.9 224.3 M408.8 166.5Q407.4 158.9 409.2 151.3 M410.4 122.1Q407.1 114.5 406.9 106.1 M444.6 206.2Q450.1 203.7 456.2 204.4 M447 231Q454.1 228.4 461.6 228.9 M454 150.5Q455.5 143 460 136.7 M548.8 192.8Q553 190.3 557.8 190.9 M441 174.1Q445.5 166.9 452.3 162 M465.1 147.6Q467.3 141.3 472.2 136.8 M550.6 139.6Q556.1 134.2 563.2 131.6 M534 209.2Q539.4 206.6 545.4 207.2 M454.5 160.7Q456.3 156 460.7 153.3 M435.2 206.8Q439.2 203.9 444.3 204 M409.4 183.2Q408.1 174.7 410 166.4 M543.6 234.6Q548.2 232.2 553.2 233 M482.8 201.8Q487.5 198.6 493.1 198.5 M469.9 191.2Q476.1 186.7 483.6 185.2 M537.8 196.4Q544.5 192 552.4 190.5 M450.4 184.9Q455.2 178.9 462 175.5 M435.5 147.2Q435.1 141.9 437.8 137.2 M543.7 186.2Q548.7 182.4 554.9 181.5 M560.8 177.9Q567 173 574.7 171 M507.2 234.9Q514.7 232.4 522.7 233 M536.8 225.9Q542.1 223.3 548 223.8 M422.8 140.4Q422.6 133.4 425.6 127 M551 161.9Q556.1 157.9 562.5 156.8 M445.1 209.8Q451.6 207.1 458.7 207.6 M502 143.7Q504.3 138.9 508.9 136.3 M436.2 148.1Q437 140.8 440.9 134.6 M436.1 119.3Q435.4 112 437.8 105 M433.3 154.8Q433.6 147 437.1 140 M490.6 125.5Q492.2 119.4 496.6 114.9 M490.9 193.4Q494.8 189.7 500.1 188.8 M513.9 166.4Q517.6 161.7 523.2 159.7 M554.6 154.9Q558.9 150.5 564.8 148.9 M469.8 220Q474.8 217.7 480.3 218.6 M519 142Q523.2 134.9 529.8 129.9 M471 214.8Q478.7 212.1 486.9 212.7 M476.8 137.2Q478.5 130.5 483.1 125.3 M505.2 225.4Q511.9 222.8 519.1 223.4 M462.6 177.5Q465.6 172.5 470.8 169.8 M486.3 227.2Q493.8 224.7 501.7 225.3 M556.8 141.3Q562 134.7 569.4 130.6 M558.1 175Q564.4 169.5 572.3 166.7 M465.3 224.7Q470.3 222.7 475.5 223.8 M528.2 144.2Q533.2 137.9 540.2 134 M535 139.6Q538.4 134.3 543.9 131.3 M485.8 163.3Q488.6 158.2 493.6 155.5 M518.5 223.9Q524.9 221.1 531.8 221.4 M523.7 122.5Q526.3 118 531 115.8 M498.7 182.9Q503.3 179.1 509.1 178.1 M470.4 186.7Q475.7 181.8 482.7 179.6 M474.6 169.7Q478.2 163.6 484.2 159.6 M481.3 145.8Q485.4 139.1 491.8 134.7 M476.4 139.2Q477.9 134.2 482 131.1 M424.3 168.8Q424 162.3 426.9 156.5 M484.6 122.8Q486 117.9 490 114.8 M519.9 209.8Q524.2 207.3 529.2 208 M483.6 162.6Q486.8 158.4 491.9 156.8 M539.4 235.5Q544.5 233.5 549.9 234.6 M559.1 176Q566.4 172.1 574.7 171.2 M430.1 211Q435.7 208.5 441.7 209.1 M523.5 136.7Q527 132.1 532.4 130 M532.9 134.9Q538 128.4 545.2 124.2 M436.9 149Q437.3 143 440.6 138.1 M409.8 139.5Q406.8 131.7 406.9 123.3 M511.4 223.7Q518.7 221 526.5 221.4 M422.2 180.6Q423.4 174.6 427.4 170 M541.9 183.5Q548.9 179.2 556.9 177.8 M420.5 235.2Q427.9 232.6 435.8 233.2 M445.8 234.9Q453.1 232.3 460.8 232.9 M473.9 138.9Q475.5 134.2 479.6 131.4 M533.5 147.9Q539.6 141.8 547.4 138.3 M496.6 196.3Q500.2 193.2 504.9 193 M409.3 135.6Q407.2 129.5 408.3 123.2 M485 223.7Q491.8 221 499.1 221.6 M407.5 118.3Q405.1 113.8 405.7 108.6 M460.4 144.5Q462.7 137.8 467.6 132.8 M436.3 191.6Q439.3 187.3 444.2 185.4 M552 146.7Q554.8 142.4 559.6 140.6 M504.8 220.8Q510.1 218.5 515.9 219.4 M405.8 194.1Q404.7 188.1 406.7 182.3 M506 170.4Q512 165.7 519.4 163.9 M443.3 224.6Q449.2 222.3 455.4 223.2 M441.6 124.9Q441.4 120.1 444.3 116.2 M491 229Q497.7 226.4 504.8 227 M484.1 193.7Q488.6 190.6 494 190.6 M452.9 153.4Q454.8 145.4 459.6 138.8 M527.7 202.4Q534.5 198.1 542.4 196.7 M521.7 172.9Q526.8 168.8 533.2 167.6 M439.7 130.4Q439 125.6 441.4 121.3 M457 206.5Q464.4 203.4 472.5 203.5 M516.4 149.4Q520.3 144.3 526.2 141.6 M528.6 179.7Q534.1 175 541.1 173.1 M556.5 143.6Q559.7 140 564.4 139.1 M445.1 145.9Q447.3 137.7 452.4 131 M521.9 156.6Q526.1 152.3 532 150.8 M441.8 225.1Q448.8 222.8 456 223.7 M558.7 173.4Q565 169.4 572.4 168.5 M539.5 169.6Q545 165.3 551.8 164 M452.6 143Q453.4 138 457.1 134.5 M547.9 135.1Q550.3 130.4 554.9 128.1 M550.8 158.7Q553.6 154.7 558.3 153.4 M410.6 199.7Q413.6 192.9 419.1 187.9 M520.4 125.8Q523.4 120.4 528.8 117.3 M533.2 214.7Q540.8 211.8 548.9 212.1 M548.5 229.4Q553.5 227 559 227.8 M421.7 122.1Q420.9 114.2 423.2 106.6 M504.2 215.4Q508.8 213.1 513.9 214 M419.5 207.4Q424.5 204.1 430.4 203.8 M471 120.5Q471.7 114.7 475.3 110.1 M517.1 161.4Q522.9 155.2 530.5 151.5 M483.6 218.5Q489.4 215.9 495.7 216.4 M473 209.2Q479.7 206 487.2 205.9 M489 143.6Q491.4 139 496 136.9 M533.5 138.1Q536 133.1 540.8 130.4 M524.4 233.4Q530.6 231 537.3 231.8 M481.7 212Q487.6 209 494.3 209 M458.9 216.2Q466.9 213.5 475.3 214.1 M448.8 143.3Q450.3 136.8 454.7 131.7 M421.4 193.1Q424.4 185.9 430.1 180.5 M514.2 210.9Q519.8 208.4 525.9 209 M467.4 164.6Q470.1 160.2 474.8 158.3 M544.4 121Q546.9 115.8 551.9 112.8 M546.4 177.1Q552.9 172.2 560.9 170.2 M440.9 172.4Q444 165.4 449.7 160.2 M523 194.3Q527.8 190.7 533.8 190.2 M428.5 217.5Q433.5 215.4 438.9 216.5 M473.3 209.3Q478 206.8 483.2 207.5 M477 222.4Q482.4 220 488.3 220.7 M515.1 217.6Q519.8 214.9 525.1 215.4 M443.1 156.5Q444 151.2 447.8 147.4 M455.8 140.3Q458.5 133.2 463.9 127.9 M420.1 231.6Q428.2 228.9 436.8 229.3 M529.6 204.5Q534.3 201.7 539.8 201.9 M504.8 130.6Q507.2 124.8 512.1 120.9 M409.4 165.1Q408 157.8 409.8 150.5 M483.1 192.6Q487.1 189.2 492.4 188.6 M499.4 165.8Q505.4 160.1 513.2 157.1 M471.9 185.7Q476.8 181.6 483 180.3 M440.1 203.2Q447.1 199.8 454.9 199.6 M514.6 218.6Q520.7 216.3 527.2 217.3 M453.5 192.1Q457.6 187.3 463.6 185.1 M527.6 202.2Q532.6 199.4 538.3 199.7 M470.9 171.7Q474.8 166.7 480.6 164.1 M510.7 227.8Q518.1 225.4 525.8 226.2 M465.4 175.8Q468.5 172 473.3 170.8 M489.9 137Q494.3 129.8 501.1 124.9 M486 129.9Q488.7 123.6 493.9 119.2 M517.3 178.4Q523.8 173.7 531.6 172 M486.4 166.4Q490.1 162.2 495.5 160.8 M512.1 164.3Q515.6 160.4 520.8 159.3 M559.5 159.9Q563.2 155.4 568.7 153.5 M467.2 119.6Q468.1 113.3 472 108.2 M514.3 159.6Q517.5 154.9 522.8 152.8 M521.2 228.9Q528.5 226.2 536.4 226.6 M465.9 143Q468 135.5 472.9 129.5 M531.9 192.8Q537.8 189.1 544.7 188.4 M439.7 231.7Q447.3 229.3 455.2 230.1 M533 173.2Q538 168.5 544.6 166.6 M423.8 216.4Q429.2 214.3 434.9 215.4 M463.4 147.9Q464.9 142.6 469.1 139.1 M404.4 203.2Q404 197.5 406.6 192.4 M451.7 174.6Q455.3 168.3 461.3 164.3 M508.2 160.8Q514.2 155.4 521.9 152.8 M413 215.7Q417.9 213.6 423.1 214.8 M535.3 192.7Q538.8 189.3 543.6 188.8 M554.4 195.4Q558.4 192.2 563.6 192 M426.6 145.6Q426.3 139.5 429.3 134.1 M428.1 224.7Q435.8 221.9 444.1 222.2 M500.1 210.2Q507.9 207.4 516.1 207.8 M528.5 217Q535.3 213.9 542.7 213.9 M487.9 205.5Q495.2 202 503.4 201.5 M491.7 149.2Q493.8 144.3 498.3 141.6 M481.9 124.9Q483.2 119.7 487.2 116.2 M481.6 176.8Q487.4 171.1 495 168.2 M405 217.2Q412 214.8 419.3 215.6 M536.8 162.2Q543.1 156.5 551 153.4 M415.9 193.2Q417.1 188.4 420.9 185.4 M500.3 198.5Q505.7 195.8 511.7 196.2 M559.1 178.3Q565.9 173.6 574 171.9 M409.4 202.7Q412.3 197.4 417.5 194.3 M540.1 161.2Q545 156.4 551.5 154.4 M525.8 142.9Q529.4 137.6 535.1 134.8 M491.5 215.6Q498.9 212.6 506.9 212.8 M467.8 177.4Q471.8 172 477.8 169 M558 195.2Q563.4 192.4 569.4 192.7 M454.1 153.3Q456.6 146.5 461.7 141.5 M527.9 122.7Q532.7 116.1 539.7 111.7 M490.2 123.9Q491.2 119.2 494.9 116.2 M434 226.7Q441.5 224.3 449.2 225.1 M547.8 190.2Q554 186.6 561.1 186 M514 188.4Q518.5 185.1 524.1 184.8 M509.4 172Q513 168.4 518.1 167.6 M432.6 122.4Q432.7 114.1 435.9 106.4 M507.6 161.5Q513.3 156.2 520.7 153.6 M492.8 148.4Q495.8 142.8 501.1 139.3 M454.3 168.8Q458.8 161.7 465.6 156.8 M412.6 185Q411.6 179.8 413.7 175.1 M532 185.9Q537.6 182.6 544.1 182.4 M406.2 163.7Q403.9 155.6 404.7 147.3 M559 174.1Q562.7 170.6 567.8 169.9 M505.8 143Q507.6 138.6 511.8 136.2 M404.8 198.7Q403.1 190.3 404.5 182 M417.9 220.6Q424.9 217.8 432.5 218.1 M442.3 204.6Q446.1 201.4 451 201.2 M526.3 202.2Q533.3 199.4 540.9 199.7 M417.3 192.2Q419.6 186.1 424.6 181.8 M551.3 148Q557.1 143.2 564.4 141.2 M405.8 119.7Q403.2 112.2 403.8 104.3 M416.6 154.7Q415.6 149.4 417.8 144.4 M540 175.4Q544.3 170.9 550.2 169.2 M494.8 169.8Q498.3 165.7 503.5 164.4 M530 160.9Q535.2 155.9 542.1 153.8 M470 163.5Q475.2 156.9 482.5 152.6 M528 184.9Q531.6 181.4 536.5 180.8 M557.9 201Q563.3 198.4 569.4 198.9 M499.7 233.3Q505.2 231.1 511.1 232.1 M471.7 222.8Q478.4 220.5 485.5 221.4 M545.6 213.3Q549.6 210.7 554.4 211.3 M445.6 167.9Q448.9 160.7 454.8 155.4 M544.2 123Q549.3 116.9 556.4 113.4 M541 185.5Q547.6 180.8 555.4 179 M531.5 198.8Q537 196.2 543.1 196.7 M417.4 183.3Q418.1 177.8 421.8 173.7 M522.5 227.9Q529.5 225.6 536.9 226.4 M477.5 142.4Q480.3 135.2 485.8 129.9 M529.1 172.2Q534.7 166.7 542 163.7 M526 145.5Q531.4 139.3 538.8 135.6 M543.8 179.6Q549.5 175.4 556.4 174.1 M433.9 140.7Q433.4 133.2 436.2 126.3 M461.3 184.6Q465.8 179.5 472.1 177.1 M427.5 123.3Q427.2 117.1 430 111.5 M420.8 192.7Q423.1 187.8 427.7 185.1 M498.4 158.7Q500.9 154.6 505.5 153 M409.3 234.9Q415.8 232.5 422.7 233.2 M445.3 209.9Q453.2 206.9 461.6 206.9 M525.2 214.6Q529.6 212.4 534.4 213.3 M435.8 139.3Q434.9 134.4 437.1 130 M492.1 220.7Q500.1 218.5 508.3 219.5 M414.1 188.6Q414.2 183.3 417.3 179.1 M555.6 148.3Q560.7 143.2 567.5 140.8 M555.1 197Q560.6 193.6 567.1 193.2 M429.2 232Q433.6 229.7 438.4 230.6 M444.4 159.5Q447.7 152 453.7 146.2 M536.3 123.6Q540.8 117.6 547.5 114.1 M506.2 234.3Q513.4 231.5 521 232 M552.4 197.9Q558.4 194.2 565.4 193.5 M523.7 130.4Q526.4 125.3 531.3 122.4 M423.6 174.8Q423.6 169.1 426.7 164.3 M426.6 198Q431.1 191.9 437.8 188.3 M434.8 122.2Q434.7 116.6 437.6 111.8 M551.6 220.3Q557.5 217.7 564 218.3 M419.3 227.6Q425.4 225.3 431.9 226.2 M457.7 215.1Q462.6 213 467.8 214 M439 124.7Q439.2 117.8 442.5 111.7 M426.9 220.7Q431.7 218.5 437 219.4 M446.8 217.1Q453 214.5 459.6 215.1 M454.3 224.6Q458.9 222.6 463.7 223.9 M545.4 196.9Q550.9 193.1 557.4 192.4 M449.2 148.4Q450 142.3 453.7 137.4 M560.6 235.8Q565.9 233.3 571.8 234" fill="none" stroke="#f4a592" stroke-width=".9" opacity=".6" stroke-linecap="round"/></g>
<path d="M404 176C407.2 173.8 416.4 174.1 426 174.5C435.6 174.9 450.9 177.2 461.6 178.5C472.3 179.8 480.8 180.7 490.3 182.5C499.9 184.3 510.8 186.9 518.9 189.5C527 192.1 532.6 194.2 539 198C545.4 201.8 553 208.2 557 212C561 215.8 563.2 219.8 563 221C562.8 222.2 560 221 556 219C552 217 545.8 212.2 539 209C532.2 205.8 523.5 202.5 515 200C506.5 197.5 498 195.7 488 194C478 192.3 465.3 190.9 455 190C444.7 189.1 434 188.8 426 188.5C418 188.2 410.7 190.1 407 188C403.3 185.9 400.8 178.2 404 176Z" fill="#f2ad96" opacity=".45" filter="url(#b1)"/>
<path d="M416.5 205.5C419.1 205.5 426.4 205.3 432 205.6C437.6 205.8 444.2 206.2 450 207C455.8 207.8 460.8 208.9 467 210.3C473.2 211.7 480.5 213.4 487 215.3C493.5 217.2 500.2 219.5 506 221.5C511.8 223.5 516.7 225.2 522 227.4C527.3 229.7 535.3 233.7 538 235L523 247 L511 259C507.3 258.1 499.5 255.2 494 253.5C488.5 251.8 482.3 250.2 477 249C471.7 247.8 466.9 247 462 246.2C457.1 245.4 452 244.6 447.5 244C443 243.4 439.4 243.1 435 242.7C430.6 242.3 423.3 241.7 421 241.5L423 230 L416.5 205.5Z" fill="url(#gMus)"/>
<path d="M528.1 231.4l15.3 3.2 M537.5 232.7l16.1 3.4 M441.1 213.3l16.3 3.6 M446.4 220.4l17.1 3.5 M490.7 225.1l9.8 2.4 M506.8 229.1l8.8 1.5 M495 230.9l10.7 2.1 M495.4 234l16.1 3.6 M448.3 215.6l15.3 3.3 M508 227.4l16.1 3.4 M521.8 241.5l12.9 2.4 M529.7 237.6l16.7 3.4 M446.4 225.9l11.7 2.2 M467.7 226.9l8 1.8 M476.3 227.5l9.2 2.2 M518.9 240.9l11.2 2.7 M468.9 229.3l8.6 2.3 M534.7 238.9l13.1 2.9 M486.8 222.6l17.7 3.6 M446 215.6l10.5 2.6 M428.5 212l15 3 M427 218.8l13.8 3.1 M505.8 227.6l16.7 3.9 M430.2 212.8l12.9 2.8 M457.2 218.1l12.1 2.3 M493.1 235.7l9.5 2.2 M510.9 229.5l16.3 4 M469.7 224.8l16.4 3.6 M470.5 232.3l15.8 3.3 M452.6 220.2l12.4 3.2 M517.5 241.3l16.2 3.9 M431.2 218.5l17.6 4.3 M453.7 221.6l14.3 3 M486 223.2l12.3 2.7 M427.4 212.4l17.7 4.2 M532.7 240.4l16.1 3.9 M526.7 230.8l14.4 2.9 M503 229.4l13.4 3.4 M496.4 227.8l13.2 2.8 M534.3 235.9l11.1 2.6 M438.8 221.1l17.6 3.9 M455.9 222.7l13.3 2.6 M439.3 214.7l10.9 2.3 M458.2 220l8.9 2 M521.6 237.9l13.7 3.2 M448.1 224.6l12.6 2.8 M495.5 230.7l11.1 2.2 M450.5 222.3l11.8 2.7 M426.4 215.2l16.6 3.4 M489 229.7l10.8 2.9 M459 227.6l9.6 1.7 M525.2 236.2l8.6 1.8 M475.6 230.4l9.1 1.7 M535.3 242.4l9.5 1.9 M465.5 227.6l14.2 3.5 M519.4 236.1l15.4 3.6 M512.4 234.1l15.8 3.7 M530.2 232.8l16.7 3.2 M513.1 235.8l13 3.3 M490.8 229l15.8 3.9 M499.6 202.7l12.5 2.2 M516 203.9l11.9 2.2 M468.2 196.3l15.9 3.4 M484.4 201.3l9.8 1.5 M434.4 195.2l13.8 1.8 M543.7 209.2l16.4 3.5 M549.2 208l12.3 2.9 M415.5 182.4l13.6 2.5 M543.8 217.3l13.4 3.2 M487 203l14.9 2.5 M464.4 200.6l11.5 2.8 M509.4 207l9 1.4 M470.5 201l13.7 3.1 M550 213.2l12.4 2.4 M554.5 211.4l13.3 2.9 M438.1 191.1l17.8 3.7 M486.3 195.6l16.9 3.4 M529.7 218.8l16.9 2.9 M436.1 190.3l13.1 2.4 M440.5 189.1l14.3 2.7 M463.8 207.7l14.4 1.9 M472 205.4l11.1 2.3 M414.6 186.9l16.4 3.1 M508.2 200.9l13 2.4 M451.5 199.3l13.3 3.2 M495 202.5l9.2 1.1 M521.1 201.4l9 1.1 M487.7 208.7l14.1 3 M422.8 183l15.7 2.5 M514.9 204.8l9.7 1.4 M428 200l13.8 2.2 M477.4 199l8.5 2.2 M496.2 212.6l12.4 2.4 M449.2 188.1l17.3 3.7 M458.4 205l16.2 2.6 M499 213l13 3.1 M448.3 194.2l15.2 2.3 M457.6 204.5l12.8 2.8 M448.3 190.3l11.6 1.6 M551 209.8l13.6 1.8 M489.3 201.1l12 1.5 M431.4 199.1l11.5 1.7 M441 191l10.4 1.1 M507.7 203.4l9.6 2.1 M427.1 188.4l16.4 2.3 M476.5 207l16 2.3 M463.8 202.8l11.8 2.9 M443.3 203.4l13 1.9 M477.8 194.5l15.1 2.3 M540.8 213.5l11.7 1.7" fill="none" stroke="#f4b59d" stroke-width=".8" opacity=".6" stroke-linecap="round"/>
<path d="M403 125.5C403.5 123.9 404.6 118.8 405.8 115.8C407 112.8 408.1 109.8 410 107.2C411.9 104.6 414.6 102.2 417.5 100C420.4 97.8 422.9 96.2 427.2 94.3C431.4 92.4 437.3 90.2 443 88.5C448.7 86.8 454.9 85.3 461.6 84.3C468.3 83.3 475.8 82.9 483 82.7C490.2 82.5 498.1 82.2 504.6 82.9C511.1 83.6 516.3 85 522 86.7C527.7 88.4 533.7 90.6 539 92.9C544.3 95.2 549.2 97.7 554 100.6C558.8 103.5 563.5 106.7 567.6 110.1C571.7 113.5 575.1 117 578.5 120.8C581.9 124.6 585.1 128.6 587.7 133C590.3 137.4 592.3 142.2 594 147C595.7 151.8 597 156.9 597.7 161.7C598.4 166.5 598.6 171.2 598.4 176C598.1 180.8 597.4 185.6 596.2 190.3C595.1 195 593.4 199.7 591.5 204C589.6 208.3 585.9 214.1 584.8 216.1C583.7 217.6 580.8 222.6 578 225.3C575.2 228 571.5 230.7 568.2 232.2C564.9 233.7 561.8 233.6 558.4 234.1C555 234.6 551.4 235.1 548 235.3C544.6 235.5 542.3 236.8 538 235.5C533.7 234.2 527.3 229.7 522 227.4C516.7 225.1 511.8 223.5 506 221.5C500.2 219.5 493.5 217.2 487 215.3C480.5 213.4 473.2 211.7 467 210.3C460.8 208.9 455.8 207.8 450 207C444.2 206.2 437.6 205.8 432 205.6C426.4 205.3 419.1 205.5 416.5 205.5L410 194 L400 174.5 L400 170.5C400.8 170.7 403 171.3 405 171.5C407 171.7 409.8 171.8 412 171.5C414.2 171.2 416.1 170.8 418 170C419.9 169.2 422 167.8 423.5 166.5C425 165.2 426 164.1 427 162.5C428 160.9 428.9 158.8 429.5 157C430.1 155.2 430.2 153.7 430.3 152C430.4 150.3 430.4 148.7 429.8 147C429.2 145.3 428.4 143.3 427 142C425.6 140.7 424.3 139.7 421.5 139C418.7 138.3 413.1 138.7 410 138C406.9 137.3 404.2 135.5 403 135L403 125.5Z" fill="none" stroke="#e0655a" stroke-width="6.5" stroke-linejoin="round"/>
<path d="M407 126.7C407.5 125.1 408.7 120.1 409.7 117.3C410.8 114.5 411.7 112 413.4 109.7C415.1 107.4 417.4 105.3 420 103.4C422.6 101.4 424.9 99.9 428.9 98.1C433 96.3 438.6 94.1 444.2 92.5C449.7 90.9 455.7 89.4 462.2 88.5C468.7 87.5 476.1 87.1 483.1 86.9C490.1 86.7 497.9 86.4 504.2 87.1C510.5 87.7 515.3 89.1 520.8 90.7C526.4 92.3 532.2 94.5 537.3 96.8C542.5 99 547.2 101.4 551.8 104.2C556.4 107 561 110.1 564.9 113.3C568.8 116.6 572.2 119.9 575.3 123.6C578.5 127.2 581.6 131 584.1 135.1C586.5 139.3 588.5 143.9 590 148.4C591.6 152.9 592.9 157.8 593.5 162.3C594.2 166.9 594.4 171.3 594.2 175.8C594 180.3 593.2 184.9 592.1 189.3C591 193.7 589.5 198.2 587.7 202.3C585.8 206.4 582.2 212.1 581.1 214.1" fill="none" stroke="#f09a86" stroke-width=".8" opacity=".9"/>
<path d="M403 125.5C403.5 123.9 404.6 118.8 405.8 115.8C407 112.8 408.1 109.8 410 107.2C411.9 104.6 414.6 102.2 417.5 100C420.4 97.8 422.9 96.2 427.2 94.3C431.4 92.4 437.3 90.2 443 88.5C448.7 86.8 454.9 85.3 461.6 84.3C468.3 83.3 475.8 82.9 483 82.7C490.2 82.5 498.1 82.2 504.6 82.9C511.1 83.6 516.3 85 522 86.7C527.7 88.4 533.7 90.6 539 92.9C544.3 95.2 549.2 97.7 554 100.6C558.8 103.5 563.5 106.7 567.6 110.1C571.7 113.5 575.1 117 578.5 120.8C581.9 124.6 585.1 128.6 587.7 133C590.3 137.4 592.3 142.2 594 147C595.7 151.8 597 156.9 597.7 161.7C598.4 166.5 598.6 171.2 598.4 176C598.1 180.8 597.4 185.6 596.2 190.3C595.1 195 593.4 199.7 591.5 204C589.6 208.3 585.9 214.1 584.8 216.1C583.7 217.6 580.8 222.6 578 225.3C575.2 228 571.5 230.7 568.2 232.2C564.9 233.7 561.8 233.6 558.4 234.1C555 234.6 551.4 235.1 548 235.3C544.6 235.5 542.3 236.8 538 235.5C533.7 234.2 527.3 229.7 522 227.4C516.7 225.1 511.8 223.5 506 221.5C500.2 219.5 493.5 217.2 487 215.3C480.5 213.4 473.2 211.7 467 210.3C460.8 208.9 455.8 207.8 450 207C444.2 206.2 437.6 205.8 432 205.6C426.4 205.3 419.1 205.5 416.5 205.5L410 194 L400 174.5 L400 170.5C400.8 170.7 403 171.3 405 171.5C407 171.7 409.8 171.8 412 171.5C414.2 171.2 416.1 170.8 418 170C419.9 169.2 422 167.8 423.5 166.5C425 165.2 426 164.1 427 162.5C428 160.9 428.9 158.8 429.5 157C430.1 155.2 430.2 153.7 430.3 152C430.4 150.3 430.4 148.7 429.8 147C429.2 145.3 428.4 143.3 427 142C425.6 140.7 424.3 139.7 421.5 139C418.7 138.3 413.1 138.7 410 138C406.9 137.3 404.2 135.5 403 135L403 125.5Z" fill="none" stroke="#d2544a" stroke-width="2.2" stroke-linejoin="round"/>
<path d="M416.5 205.5C419.1 205.5 426.4 205.3 432 205.6C437.6 205.8 444.2 206.2 450 207C455.8 207.8 460.8 208.9 467 210.3C473.2 211.7 480.5 213.4 487 215.3C493.5 217.2 500.2 219.5 506 221.5C511.8 223.5 516.7 225.2 522 227.4C527.3 229.7 535.3 233.7 538 235" fill="none" stroke="#c9453c" stroke-width="1.6"/>
<path d="M416.5 203.3C419.1 203.3 426.5 203.1 432.1 203.4C437.7 203.7 444.4 204 450.3 204.8C456.2 205.6 461.3 206.8 467.5 208.2C473.7 209.5 481.1 211.3 487.6 213.2C494.1 215.1 500.8 217.4 506.7 219.4C512.6 221.5 517.5 223.1 522.9 225.4C528.2 227.6 536.3 231.7 538.9 233" fill="none" stroke="#f0a58f" stroke-width="1.2"/>
<path d="M419 226C422.5 226.1 432.8 225.9 440 226.5C447.2 227.1 454.5 228.1 462 229.5C469.5 230.9 477.8 232.9 485 235C492.2 237.1 499.2 239.8 505 242C510.8 244.2 517.5 247.4 520 248.5" fill="none" stroke="#dd6a55" stroke-width="1.1" opacity=".8"/>
<path d="M421 241.5C423.3 241.7 430.6 242.3 435 242.7C439.4 243.1 443 243.4 447.5 244C452 244.6 457.1 245.4 462 246.2C466.9 247 471.7 247.8 477 249C482.3 250.2 488.5 251.8 494 253.5C499.5 255.2 507.3 258.1 510 259" fill="none" stroke="#d95a4c" stroke-width="2.4"/>
</g>
<path d="M388.8 45.5C390.7 46.2 395.8 48.2 400 49.5C404.2 50.8 408.5 52.1 414.3 53.2C420.1 54.3 427.6 55.2 435 56C442.4 56.8 451.1 57.6 458.6 57.7C466.1 57.8 472.6 57 480 56.6C487.4 56.2 497.1 55.1 502.8 55.1C508.5 55.1 510.3 55.9 514 56.6C517.7 57.3 521.3 58.2 525 59.2C528.7 60.2 532.3 61.3 536 62.8C539.7 64.2 543.4 66 547.1 67.9C550.8 69.8 554.3 71.7 558 74C561.7 76.3 565.8 79 569.2 81.5C572.6 84 575.2 85.8 578.3 88.8C581.4 91.8 585.5 96.6 587.9 99.6C590.3 102.5 591.3 104.5 592.5 106.5C593.7 108.5 594.2 109.4 595.1 111.7C596 114 597.2 117.9 597.6 120.1C598 122.3 597.6 123.9 597.3 125C596.9 126.1 596.2 126.6 595.5 126.7C594.8 126.8 593.9 126.2 593 125.8C592.1 125.4 590.8 124.6 590.3 124.4C589.5 123.3 587.5 120.4 585.5 117.7C583.5 115 581.5 111.5 578.3 108.1C575.1 104.7 570.2 100.3 566.2 97.2C562.2 94.1 558 91.6 554 89.4C550 87.2 546 85.5 542 84C538 82.5 534.7 81.6 530 80.3C525.3 79 519.4 77 513.9 76C508.4 75 502.5 74.3 497 74C491.5 73.7 486.2 73.8 480.7 73.9C475.2 74 469.5 74 464 74.4C458.5 74.8 452.2 75.7 447.5 76.4C442.8 77.1 439.7 77.9 436 78.8C432.3 79.7 428.8 80.7 425.3 81.8C421.8 82.9 418.1 84.3 415 85.5C411.9 86.7 407.9 88.2 406.5 88.8L398 97 L388.8 61Z" fill="#fff" stroke="#161616" stroke-width="1.4" stroke-linejoin="round"/>
<path d="M387.7 53.2C389.8 53.8 395.6 55.6 400 56.5C404.4 57.4 408.5 58.2 414.3 58.8C420.1 59.4 427.6 59.9 435 60.3C442.4 60.7 451.1 60.9 458.6 61C466.1 61.1 472.6 61.2 480 61.2C487.4 61.2 496.8 60.7 502.8 61C508.8 61.3 511.6 62.1 516 63C520.4 63.9 527.2 65.9 529.4 66.5C527.2 66.6 520.4 67.1 516 67.3C511.6 67.5 508 67.5 502.8 67.6C497.6 67.7 490.5 67.8 485 68C479.5 68.2 475.9 68 469.6 68.7C463.4 69.4 453.1 71 447.5 72C441.9 73 439.7 73.6 436 74.5C432.3 75.4 428.6 76.4 425.3 77.6C422 78.8 418.9 80 416 81.5C413.1 83 409.9 84.8 407.6 86.5C405.4 88.2 404 89.8 402.5 91.5C401 93.2 399.9 95 398.8 96.4C397.7 97.8 397.1 98.9 396 100C394.9 101.1 393.6 102.4 392.1 102.8C390.6 103.2 388.5 102.8 387 102.6C385.5 102.4 384.5 101.9 383.3 101.4C382.1 100.9 380.7 100.2 380 99.4C379.3 98.6 379.1 97.8 379.2 96.4C379.3 95 380 92.8 380.7 91C381.4 89.2 382.5 87.4 383.5 85.3C384.5 83.2 385.6 80.7 386.5 78.5C387.4 76.3 388.2 74.1 388.6 72C389.1 69.9 389.2 67.8 389.2 66C389.2 64.2 388.9 62.5 388.6 61C388.3 59.5 387.5 58.3 387.4 57C387.2 55.7 387.6 53.8 387.7 53.2Z" fill="#f0edc9" stroke="#161616" stroke-width="1.3" stroke-linejoin="round"/>
<path d="M380.7 101.2C382.6 100.9 389.8 102.2 391.3 104C392.9 105.8 390.8 109.3 390 112C389.2 114.7 387.7 117.6 386.8 120.4C385.9 123.2 385.2 126.5 384.7 128.9C384.1 131.3 384 133.8 383.5 135C383 136.2 382.4 136.9 381.6 136.3C380.8 135.7 379.3 133.4 378.6 131.5C377.9 129.6 377.4 127.6 377.4 124.7C377.4 121.8 378 117.1 378.4 114C378.8 110.9 379.2 108.1 379.6 106C380 103.9 378.8 101.5 380.7 101.2Z" fill="#fff" stroke="#161616" stroke-width="1.3" stroke-linejoin="round"/>
<path d="M384 132C384.5 131.1 385.9 131.8 386.6 132.6C387.3 133.3 387.8 135.1 388.4 136.5C389 137.9 389.2 139.5 390 141C390.8 142.5 392.1 144 393 145.5C393.9 147 394.9 148.2 395.4 150C395.9 151.8 396.1 154.2 396.2 156C396.3 157.8 396.9 160.3 396 161C395.1 161.7 392.7 160.4 391 160C389.3 159.6 387 159.8 386 158.5C385 157.2 385.1 154.2 384.8 152C384.5 149.8 384.4 147.3 384.2 145C384 142.7 383.6 140.2 383.6 138C383.6 135.8 383.5 132.9 384 132Z" fill="#fff" stroke="#161616" stroke-width="1.3" stroke-linejoin="round"/>
<path d="M386 158.5C386.5 157.2 389.3 159.6 391 160C392.7 160.4 394.5 158.6 396 161C397.5 163.4 398.5 170.7 400 174.5C401.5 178.3 403.3 180.8 405 184C406.7 187.2 408.2 190.5 410 194C411.8 197.5 414.3 201.8 416 205C417.7 208.2 418.9 210.2 420 213C421.1 215.8 421.9 219.2 422.5 222C423.1 224.8 423.4 227.5 423.5 230C423.6 232.5 423.4 235.1 423 237C422.6 238.9 421.8 240.2 421 241.5C420.2 242.8 419.4 244.2 418 245C416.6 245.8 414.4 246.3 412.5 246.6C410.6 246.8 408.8 246.8 406.5 246.5C404.2 246.2 401.2 245.8 399 245C396.8 244.2 394.8 243.2 393 242C391.2 240.8 389.7 239.5 388.5 238C387.3 236.5 386.6 234.7 386 233C385.4 231.3 385.2 229.6 385.2 228C385.2 226.4 385.5 225 386.2 223.5C386.9 222 388.5 220.6 389.5 219C390.5 217.4 391.4 216.2 392 214C392.6 211.8 392.8 208.7 392.8 206C392.8 203.3 392.3 201 392 198C391.7 195 391.3 191.3 391 188C390.7 184.7 390.5 181.3 390 178C389.5 174.7 388.7 171.2 388 168C387.3 164.8 385.5 159.8 386 158.5Z" fill="#f0edc9" stroke="#161616" stroke-width="1.4" stroke-linejoin="round"/>
<path d="M600 243.5C599.2 245.6 597.4 251.2 595 256.2C592.6 261.2 588.9 268.1 585.5 273.6C582.1 279.1 578.1 284.4 574.4 289.4C570.7 294.4 567 300.3 563.3 303.7C559.6 307.1 555.2 308.1 552.3 310C549.4 311.9 547.1 313 545.9 314.8C544.6 316.6 544.2 318.4 544.8 321C545.4 323.6 547.1 327.1 549.3 330.7C551.4 334.3 555.5 339.1 557.7 342.7C559.9 346.3 561.2 348.7 562.6 352.4C564 356.1 564.6 359.7 566.4 365C568.2 370.3 571.4 377.9 573.6 384.3C575.8 390.7 578 398 579.6 403.6C581.2 409.2 582.5 413.3 583.3 418C584.1 422.7 584.1 427.5 584.6 432C585.1 436.5 585.4 438.3 586.2 445C587 451.7 588.1 464.3 589.2 472C590.3 479.7 591.7 484.6 593 491C594.3 497.4 595.8 503.6 597 510.4C598.2 517.2 599.4 523.5 600.4 531.8C601.4 540.1 602.6 555.5 603 560.3L654.2 560.3C653.5 553.8 651.6 532.5 650.2 521.6C648.8 510.8 647.5 503.7 646 495.2C644.5 486.7 642.7 478.2 641 470.7C639.3 463.2 637.6 457.2 635.9 450.4C634.2 443.6 632.2 436.3 630.8 430C629.3 423.7 629 419.1 627.2 412.6C625.5 406.1 622.8 398.2 620.3 391C617.8 383.8 615.1 376.7 612.5 369.5C609.9 362.3 606.9 354.5 604.6 348C602.3 341.5 600.2 335.5 598.7 330.3C597.2 325.1 595.9 319.8 595.6 316.6C595.3 313.4 595.9 312.4 596.8 311C597.6 309.6 600.1 308.9 600.7 308.5L603 305.5C602.2 304.7 599.8 302.9 598.2 300.5C596.6 298.1 594.2 294.7 593.4 291C592.6 287.3 593 282.5 593.2 278.3C593.4 274.1 593.8 269.9 594.5 266C595.2 262.1 596.4 257.9 597.4 254.6C598.4 251.3 599.8 248.8 600.5 246C601.2 243.2 601.3 239.3 601.5 238Z" fill="#af2429"/>
<g clip-path="url(#cL)" filter="url(#b3)" opacity=".55">
<path d="M564 300 l10 7 l-8 9 l12 6 l-6 10 l10 6 M582 310 l-9 15 M570 330 l14 -5" fill="none" stroke="#d97666" stroke-width="7" stroke-linecap="round" stroke-linejoin="round"/>
<path d="M580 354 l8 9 l-5 10 l11 8 l-3 12 l11 8 l-3 12 l9 10 M590 372 l9 -6 M597 401 l-9 6 M604 425 l8 -4" fill="none" stroke="#d97666" stroke-width="7" stroke-linecap="round" stroke-linejoin="round"/>
</g>
<path d="M538 236.2C538.8 236.1 540.8 236 542.8 235.8C544.8 235.6 547.4 235.3 550 235C552.6 234.7 557 234.2 558.4 234.1C559.2 234.4 561.9 235.2 563 236C564.1 236.8 564.2 237.8 565 238.8C565.8 239.8 566.4 241.8 568 242C569.6 242.2 572 241.9 574.4 240.3C576.8 238.7 579.4 234.8 582.3 232.4C585.2 230 589 227.3 591.8 226C594.6 224.7 597.3 223.9 599 224.5C600.7 225.1 601.6 227.1 602 229.3C602.4 231.6 601.6 236.6 601.5 238L600 243.5C599.2 245.6 597.4 251.2 595 256.2C592.6 261.2 588.9 268.1 585.5 273.6C582.1 279.1 578.1 284.4 574.4 289.4C570.7 294.4 567 300.3 563.3 303.7C559.6 307.1 555.2 308.1 552.3 310C549.4 311.9 547.1 313 545.9 314.8C544.6 316.6 544.2 318.4 544.8 321C545.4 323.6 547.1 327.1 549.3 330.7C551.4 334.3 555.5 339.1 557.7 342.7C559.9 346.3 561.2 348.7 562.6 352.4C564 356.1 564.6 359.7 566.4 365C568.2 370.3 571.4 377.9 573.6 384.3C575.8 390.7 578 398 579.6 403.6C581.2 409.2 582.5 413.3 583.3 418C584.1 422.7 584.1 427.5 584.6 432C585.1 436.5 585.4 438.3 586.2 445C587 451.7 588.1 464.3 589.2 472C590.3 479.7 591.7 484.6 593 491C594.3 497.4 595.8 503.6 597 510.4C598.2 517.2 599.4 523.5 600.4 531.8C601.4 540.1 602.6 555.5 603 560.3L587.4 560.3C587.3 556.1 587.1 543.3 586.8 535C586.5 526.7 586 517.7 585.4 510.4C584.8 503.1 583.9 497.4 583 491C582.1 484.6 581.1 477.8 580.3 472C579.5 466.2 579.1 461.2 578.2 456C577.3 450.8 576.7 445.7 575 441C573.3 436.3 570 432.7 568 428C566 423.3 564.6 418.3 562.7 413C560.9 407.7 558.9 401.2 556.9 396C554.9 390.8 553 386.7 551 382C549 377.3 546.7 371.7 545 368C543.3 364.3 542.3 363 540.8 359.6C539.3 356.2 537.6 352.8 536 347.6C534.4 342.4 532.4 334.6 531.2 328.3C530 322 529.8 316.1 528.8 310C527.8 303.9 526.3 296.8 525.2 292C524.1 287.2 523.5 285.6 522.2 281.5C520.9 277.4 518.2 269.7 517.4 267.3L514 266.5 L523 247Z" fill="#faf6e9"/>
<path d="M600.7 308.5C602 308.5 606.5 307.9 608.5 308.7C610.5 309.5 611.5 311.5 613 313.5C614.5 315.5 615.4 316.4 617.4 320.5C619.4 324.6 622.6 331.1 625.2 338C627.8 344.9 630.9 354.2 633 361.7C635.1 369.2 636.3 376 637.9 383.2C639.5 390.4 641.4 397.5 642.8 404.8C644.2 412.1 645.2 419.4 646.4 427C647.6 434.6 648.9 442.4 650.2 450.4C651.5 458.4 652.9 465.3 654.2 474.8C655.6 484.3 656.8 493.1 658.3 507.4C659.8 521.6 662.5 551.5 663.4 560.3L654.2 560.3C653.5 553.8 651.6 532.5 650.2 521.6C648.8 510.8 647.5 503.7 646 495.2C644.5 486.7 642.7 478.2 641 470.7C639.3 463.2 637.6 457.2 635.9 450.4C634.2 443.6 632.2 436.3 630.8 430C629.3 423.7 629 419.1 627.2 412.6C625.5 406.1 622.8 398.2 620.3 391C617.8 383.8 615.1 376.7 612.5 369.5C609.9 362.3 606.9 354.5 604.6 348C602.3 341.5 600.2 335.5 598.7 330.3C597.2 325.1 595.9 319.8 595.6 316.6C595.3 313.4 595.9 312.4 596.8 311C597.6 309.6 600.1 308.9 600.7 308.5Z" fill="#faf6e9"/>
<path d="M512 256.7C512.9 254.8 515.2 252.6 517 251C518.8 249.4 520.8 248.5 523 247C525.2 245.5 527.7 243.5 530 242C532.3 240.5 535.2 238.8 537 238C538.8 237.2 540 237 541 237.3C542 237.6 542.9 238.7 543.2 240C543.5 241.3 543.4 243.3 542.7 245C542 246.7 540.6 248.1 539 250C537.4 251.9 535 254.7 533 256.7C531 258.7 528.8 260.4 527 262C525.2 263.6 523.7 265.5 522 266.5C520.3 267.5 518.3 268 517 268C515.7 268 514.9 267.4 514 266.5C513.1 265.6 511.8 264.1 511.5 262.5C511.2 260.9 511.1 258.6 512 256.7Z" fill="#eeeac6" stroke="#161616" stroke-width="1.3"/>
<path d="M595 229.3C596.4 230 597.6 231.9 596.8 235.6C596 239.3 593.8 244.8 590.3 251.4C586.8 258 580.5 268.1 576 275.2C571.5 282.3 567 289.7 563.3 294.2C559.6 298.7 556.3 300.9 553.8 302.1C551.3 303.3 549.5 302.6 548.5 301.3C547.5 300 546.6 298 547.5 294.2C548.4 290.4 550.6 284.1 553.8 278.3C557 272.5 562.3 265.4 566.5 259.3C570.7 253.2 575.5 246.5 579.2 241.9C582.9 237.3 586.1 233.7 588.7 231.6C591.3 229.5 593.6 228.6 595 229.3Z" fill="#fff" stroke="#161616" stroke-width="1.5"/>
<path d="M538.5 323.3C539.4 323.2 540.8 323.7 541.4 324.5C542 325.3 541.7 326.1 542.4 328.3C543.1 330.5 544 334.3 545.7 337.9C547.5 341.5 550.9 346.4 552.9 350C554.9 353.6 556.7 356.9 557.7 359.6C558.7 362.3 558.9 363.9 558.9 366C558.9 368.1 558.4 370.4 557.8 372C557.1 373.6 556.1 374.6 555 375.3C553.9 376 552.3 376.7 551 376C549.7 375.3 548.3 372.9 547 371C545.7 369.1 544.2 367.2 543 364.5C541.8 361.8 540.8 357.8 540 355C539.2 352.2 539 350.1 538.4 347.6C537.8 345.1 536.9 342.8 536.4 340C535.9 337.2 535.4 333.2 535.3 330.7C535.2 328.2 535.5 326.2 536 325C536.5 323.8 537.6 323.4 538.5 323.3Z" fill="#fff" stroke="#161616" stroke-width="1.5"/>
<path d="M565.2 384.3C566.3 384.2 568.2 383.7 569.4 385.5C570.6 387.3 571.2 392.6 572.4 395.2C573.6 397.8 575.8 399.1 576.6 401.2C577.4 403.3 577.6 406.3 577.4 408C577.2 409.7 576.5 411.2 575.6 411.6C574.7 412 573.5 412.3 572 410.6C570.5 408.9 567.9 404.6 566.4 401.2C564.9 397.8 563.3 392.5 562.7 390C562.1 387.5 562.6 386.9 563 386C563.4 385.1 564.1 384.4 565.2 384.3Z" fill="#fff" stroke="#161616" stroke-width="1.5"/>
<path d="M605.6 318.5C606.6 318.2 608 318.1 609 318.4C610 318.7 610.3 318.2 611.5 320.5C612.7 322.8 615.4 329.3 616.4 332.3C617.4 335.3 617.8 337 617.6 338.5C617.5 340 616.5 341.1 615.5 341.4C614.5 341.7 612.8 341.2 611.5 340.5C610.2 339.8 609 339.7 607.5 337C606 334.3 603.4 327.2 602.6 324.4C601.9 321.6 602.5 321.4 603 320.4C603.5 319.4 604.6 318.8 605.6 318.5Z" fill="#fff" stroke="#161616" stroke-width="1.5"/>
<path d="M618.3 353.8C619.4 353.5 620.9 353.3 622 353.6C623.1 353.9 623.7 353.2 625.2 355.8C626.7 358.4 629.5 364 631 369.5C632.5 375 633.4 383.9 634 389C634.6 394.1 634.6 397.2 634.5 400C634.4 402.8 634.1 404.6 633.5 406C632.9 407.4 631.9 408.6 631 408.7C630.1 408.8 629.1 409.4 628.1 406.8C627.1 404.2 626.5 398.6 625.2 393C623.9 387.4 622.1 378.9 620.3 373.4C618.5 367.8 615.4 362.7 614.6 359.7C613.8 356.7 614.8 356.6 615.4 355.6C616 354.6 617.2 354.1 618.3 353.8Z" fill="#fff" stroke="#161616" stroke-width="1.5"/>
<path d="M558.4 234.1C559.2 234.4 561.9 235.2 563 236C564.1 236.8 564.2 237.8 565 238.8C565.8 239.8 566.4 241.8 568 242C569.6 242.2 572 241.9 574.4 240.3C576.8 238.7 579.4 234.8 582.3 232.4C585.2 230 589 227.3 591.8 226C594.6 224.7 597.3 223.9 599 224.5C600.7 225.1 601.6 227.1 602 229.3C602.4 231.6 601.6 236.6 601.5 238C601.3 239.3 601.2 243.2 600.5 246C599.8 248.8 598.4 251.3 597.4 254.6C596.4 257.9 595.2 262.1 594.5 266C593.8 269.9 593.4 274.1 593.2 278.3C593 282.5 592.6 287.3 593.4 291C594.2 294.7 596.6 298.1 598.2 300.5C599.8 302.9 601.3 304.1 603 305.5C604.7 306.9 607.6 308.2 608.5 308.7" fill="none" stroke="#161616" stroke-width="1.7" stroke-linejoin="round"/>
<path d="M600 243.5C599.2 245.6 597.4 251.2 595 256.2C592.6 261.2 588.9 268.1 585.5 273.6C582.1 279.1 578.1 284.4 574.4 289.4C570.7 294.4 567 300.3 563.3 303.7C559.6 307.1 555.2 308.1 552.3 310C549.4 311.9 547.1 313 545.9 314.8C544.6 316.6 544.2 318.4 544.8 321C545.4 323.6 547.1 327.1 549.3 330.7C551.4 334.3 555.5 339.1 557.7 342.7C559.9 346.3 561.2 348.7 562.6 352.4C564 356.1 564.6 359.7 566.4 365C568.2 370.3 571.4 377.9 573.6 384.3C575.8 390.7 578 398 579.6 403.6C581.2 409.2 582.5 413.3 583.3 418C584.1 422.7 584.1 427.5 584.6 432C585.1 436.5 585.4 438.3 586.2 445C587 451.7 588.1 464.3 589.2 472C590.3 479.7 591.7 484.6 593 491C594.3 497.4 595.8 503.6 597 510.4C598.2 517.2 599.4 523.5 600.4 531.8C601.4 540.1 602.6 555.5 603 560.3" fill="none" stroke="#161616" stroke-width="2"/>
<path d="M654.2 560.3C653.5 553.8 651.6 532.5 650.2 521.6C648.8 510.8 647.5 503.7 646 495.2C644.5 486.7 642.7 478.2 641 470.7C639.3 463.2 637.6 457.2 635.9 450.4C634.2 443.6 632.2 436.3 630.8 430C629.3 423.7 629 419.1 627.2 412.6C625.5 406.1 622.8 398.2 620.3 391C617.8 383.8 615.1 376.7 612.5 369.5C609.9 362.3 606.9 354.5 604.6 348C602.3 341.5 600.2 335.5 598.7 330.3C597.2 325.1 595.9 319.8 595.6 316.6C595.3 313.4 595.9 312.4 596.8 311C597.6 309.6 600.1 308.9 600.7 308.5" fill="none" stroke="#161616" stroke-width="2"/>
<path d="M600.7 308.5C602 308.5 606.5 307.9 608.5 308.7C610.5 309.5 611.5 311.5 613 313.5C614.5 315.5 615.4 316.4 617.4 320.5C619.4 324.6 622.6 331.1 625.2 338C627.8 344.9 630.9 354.2 633 361.7C635.1 369.2 636.3 376 637.9 383.2C639.5 390.4 641.4 397.5 642.8 404.8C644.2 412.1 645.2 419.4 646.4 427C647.6 434.6 648.9 442.4 650.2 450.4C651.5 458.4 652.9 465.3 654.2 474.8C655.6 484.3 656.8 493.1 658.3 507.4C659.8 521.6 662.5 551.5 663.4 560.3" fill="none" stroke="#161616" stroke-width="1.9"/>
<path d="M558.8 345.2 Q580 341.5 602.6 344.2" fill="none" stroke="#161616" stroke-width="1.3"/>
<path d="M560.5 345.2C560.7 344.6 564.8 343.9 568 343.6C571.2 343.3 576.3 343.1 580 343.2C583.7 343.3 587.7 343.7 590 344C592.3 344.3 594.3 344.7 594 345.2C593.7 345.7 590.7 346.4 588 346.8C585.3 347.2 581.5 347.5 578 347.6C574.5 347.7 569.9 347.6 567 347.2C564.1 346.8 560.3 345.8 560.5 345.2Z" fill="#fff" stroke="#161616" stroke-width="1.1"/>
<path d="M418 245C420.3 245.3 427.1 246.1 432 246.8C436.9 247.5 442.3 248.1 447.5 249C452.7 249.9 458.1 251.2 463 252.5C467.9 253.8 472.9 255.3 477 257C481.1 258.7 484.2 260.6 487.5 262.5C490.8 264.4 493.8 266.3 496.5 268.5C499.2 270.7 501.8 273.5 504 275.5C506.2 277.5 508 277.8 510 280.5C512 283.2 514.3 287.4 516 291.5C517.7 295.6 518.9 300.3 520 305C521.1 309.7 521.9 315.6 522.5 319.5C523.1 323.4 522.6 323.6 523.6 328.3C524.6 333 526.9 342.4 528.8 347.6C530.7 352.8 533 356.1 534.8 359.6C536.6 363.1 537 363.9 539.5 368.4C542 372.9 546.2 380 549.5 386.7C552.8 393.4 557 403.2 559.1 408.4C561.2 413.6 561.1 414.7 562.1 418C563.1 421.3 564.1 425 565 428C565.9 431 566.6 432 567.4 436C568.2 440 569.1 446 569.8 452C570.4 458 570.8 462.3 571.3 472C571.8 481.7 572.5 499.1 572.6 510.4C572.7 521.7 572 531.7 571.8 540C571.6 548.3 571.4 556.9 571.3 560.3" fill="none" stroke="#161616" stroke-width="1.5"/>
<path d="M517.4 267.3C518.2 269.7 520.9 277.4 522.2 281.5C523.5 285.6 524.1 287.2 525.2 292C526.3 296.8 527.8 303.9 528.8 310C529.8 316.1 530 322 531.2 328.3C532.4 334.6 534.4 342.4 536 347.6C537.6 352.8 539.3 356.2 540.8 359.6C542.3 363 543.3 364.3 545 368C546.7 371.7 549 377.3 551 382C553 386.7 554.9 390.8 556.9 396C558.9 401.2 560.9 407.7 562.7 413C564.6 418.3 566 423.3 568 428C570 432.7 573.3 436.3 575 441C576.7 445.7 577.3 450.8 578.2 456C579.1 461.2 579.5 466.2 580.3 472C581.1 477.8 582.1 484.6 583 491C583.9 497.4 584.8 503.1 585.4 510.4C586 517.7 586.5 526.7 586.8 535C587.1 543.3 587.3 556.1 587.4 560.3" fill="none" stroke="#161616" stroke-width="1.6"/>
<path d="M365.5 42C365.8 41.7 366.6 40.5 367.5 40C368.4 39.5 368.9 38.9 371 39.3C373.1 39.7 377.2 41.2 380 42.2C382.8 43.2 386.7 43.6 387.9 45.4C389.1 47.2 387.1 49.8 387.2 52.8C387.3 55.8 388.5 59.5 388.6 63.4C388.7 67.3 388.9 71.8 387.9 76C386.9 80.2 383.9 84.5 382.6 88.7C381.4 92.9 380.8 99 380.4 101" fill="none" stroke="#161616" stroke-width="1.2"/>
<path d="M337 6C337.2 7.5 337.9 12.6 338.5 15C339.1 17.4 340.6 18.8 340.5 20.5C340.4 22.2 338.9 23.8 338 25C337.1 26.2 335.5 27.1 335 27.5" fill="none" stroke="#161616" stroke-width="1.1"/>
<path d="M607 6C607.7 7.2 609.8 10.3 611 13C612.2 15.7 613.5 17.7 614.5 22C615.5 26.3 616.7 33.2 617 39C617.3 44.8 616.3 52.5 616.2 57C616.1 61.5 616.3 62.5 616.6 66C616.9 69.5 617.5 73.7 618 78C618.5 82.3 618.9 86.7 619.4 92C619.9 97.3 620.6 103.8 621 110C621.4 116.2 621.6 122.6 622 129C622.4 135.4 623.1 145.3 623.3 148.6" fill="none" stroke="#161616" stroke-width="1.5"/>
<path d="M393 8 C400 16 412 20 440 22 C470 24 490 34 500 40 C515 48 530 51 540 50 C548 49 552 43 552 34" fill="none" stroke="#f6a04c" stroke-width="1.25"/>
</g>
<g clip-path="url(#cf)">
<path d="M321.3 6C321.5 7.1 321.3 10.2 322.4 12.7C323.5 15.2 325.6 18.6 327.7 21.1C329.8 23.6 332.5 26.6 335 27.5C337.5 28.4 340.2 26.4 342.5 26.6C344.8 26.8 346.3 27.1 348.8 28.5C351.3 29.9 355 32.6 357.3 34.9C359.6 37.2 361.1 40 362.5 42.3C363.9 44.6 364.4 45.1 365.7 48.6C367 52.1 369.7 58.8 370.2 63.4C370.7 68 370 71.8 368.9 76C367.8 80.2 365.5 84.1 363.6 88.7C361.7 93.3 358.5 99.3 357.3 103.5C356.1 107.7 355.8 111 356.2 114C356.6 117 358 119.9 359.6 121.8C361.2 123.7 364.1 124.7 366 125.3C367.9 125.9 369.6 125.6 371 125.3C372.4 125 373.3 124.5 374.2 123.5C375.1 122.5 376 120.9 376.6 119C377.2 117.1 377.5 114.2 378 112C378.5 109.8 379 107.5 379.4 105.7C379.8 103.9 380.2 101.8 380.4 101" fill="none" stroke="#161616" stroke-width="3.1" stroke-linecap="round" stroke-linejoin="round"/>
<path d="M384.2 159.4C383.7 158.7 382 157.7 381.2 155.2C380.4 152.7 380.1 147.7 379.4 144.3C378.7 140.9 378.1 137.3 377 134.7C375.9 132.1 374.7 130.2 372.8 128.8C370.9 127.4 367.8 126.6 365.5 126.4C363.2 126.2 360.8 126.5 359 127.8C357.2 129.1 356.2 132 355 134C353.8 136 352.2 137.8 351.5 140C350.8 142.2 350.2 144.3 350.5 147C350.8 149.7 351.8 153.2 353 156C354.2 158.8 356.3 161.3 358 163.5C359.7 165.7 361.5 166.8 363 169C364.5 171.2 366.1 173.5 367 177C367.9 180.5 368.4 186.2 368.6 190C368.8 193.8 368.4 196.3 368 200C367.6 203.7 366.7 207.8 366.5 212C366.3 216.2 366.3 221.2 366.8 225C367.3 228.8 368.5 232 369.5 235C370.5 238 371.2 240 373 243C374.8 246 377.3 250 380 253C382.7 256 386 258.7 389 261C392 263.3 394.8 265.2 398 267C401.2 268.8 404.8 270.2 408.5 271.5C412.2 272.8 416.1 273.8 420 274.5C423.9 275.2 428 275.4 432 275.5C436 275.6 440.1 275.1 444 274.8C447.9 274.5 451.8 273.9 455.5 273.5C459.2 273.1 462.8 272.7 466 272.5C469.2 272.3 472.2 272.2 475 272.5C477.8 272.8 480.3 273.5 483 274.5C485.7 275.5 488.8 277 491 278.5C493.2 280 494.8 281.7 496.5 283.5C498.2 285.3 499.5 287.1 501 289.5C502.5 291.9 504.1 295.2 505.5 298C506.9 300.8 508.4 303.3 509.5 306.5C510.6 309.7 511.2 313.4 512 317C512.8 320.6 512.7 323.2 514.3 328.3C515.9 333.4 519.5 342.5 521.5 347.6C523.5 352.7 524.9 355.3 526.5 359C528.1 362.7 529.4 366.3 531 370C532.6 373.7 534.3 377.3 536 381C537.7 384.7 539.7 388.5 541 392C542.3 395.5 543.3 398.3 544 402C544.7 405.7 545.2 409.3 545.4 414C545.6 418.7 545.3 424.6 545.2 430C545.1 435.4 544.5 439.3 544.6 446.3C544.7 453.3 545.6 461.3 545.6 472C545.6 482.7 545.4 498.4 544.6 510.4C543.8 522.4 542.1 535.4 541 543.7C539.9 552 538.5 557.6 538 560.4" fill="none" stroke="#161616" stroke-width="3.1" stroke-linecap="round" stroke-linejoin="round"/>
</g>
<path d="M533 437C530 437.3 520.4 438.4 515 439C509.6 439.6 507 439.8 500.8 440.6C494.6 441.4 485.5 442.5 478 443.6C470.5 444.7 462.6 446 455.6 447C448.6 448 442 448.7 436 449.5C430 450.3 423.9 451.1 419.4 451.9C414.9 452.6 411.6 453.2 409 454C406.4 454.8 405 455.6 404 456.6C403 457.6 402.3 459.1 402.8 460.2C403.3 461.3 404.2 462.1 407 463C409.8 463.9 412.8 464.3 419.4 465.4C426 466.5 440.2 468.7 446.5 469.8C452.8 470.9 454.4 471.1 457 472C459.6 472.9 461 473.7 462 475C463 476.3 463.7 478.6 463.2 480C462.7 481.4 461.3 482.4 459 483.5C456.7 484.6 455.1 484.9 449.5 486.6C443.9 488.3 431.3 492 425.4 493.9C419.5 495.8 417 496.6 414 498C411 499.4 409.3 500.6 407.3 502C405.3 503.4 403.5 505 402 506.5C400.5 508 399.3 509.3 398.3 511C397.3 512.7 396.4 515.6 396 516.5" fill="none" stroke="#2e2417" stroke-width="4.9" stroke-linecap="round"/>
<path d="M533 437C530 437.3 520.4 438.4 515 439C509.6 439.6 507 439.8 500.8 440.6C494.6 441.4 485.5 442.5 478 443.6C470.5 444.7 462.6 446 455.6 447C448.6 448 442 448.7 436 449.5C430 450.3 423.9 451.1 419.4 451.9C414.9 452.6 411.6 453.2 409 454C406.4 454.8 405 455.6 404 456.6C403 457.6 402.3 459.1 402.8 460.2C403.3 461.3 404.2 462.1 407 463C409.8 463.9 412.8 464.3 419.4 465.4C426 466.5 440.2 468.7 446.5 469.8C452.8 470.9 454.4 471.1 457 472C459.6 472.9 461 473.7 462 475C463 476.3 463.7 478.6 463.2 480C462.7 481.4 461.3 482.4 459 483.5C456.7 484.6 455.1 484.9 449.5 486.6C443.9 488.3 431.3 492 425.4 493.9C419.5 495.8 417 496.6 414 498C411 499.4 409.3 500.6 407.3 502C405.3 503.4 403.5 505 402 506.5C400.5 508 399.3 509.3 398.3 511C397.3 512.7 396.4 515.6 396 516.5" fill="none" stroke="#f4d9a6" stroke-width="2.7" stroke-linecap="round"/>
<path d="M367.6 601.5 L383.9 604.6 L379.5 620.2 L364 617.4Z" fill="#f6ecb5" stroke="#161616" stroke-width="1.5" stroke-linejoin="round"/>
<path d="M364.4 594 L387.2 598.6 L386.1 604.8 L363.3 600.2Z" fill="#f7f0c2" stroke="#161616" stroke-width="1.5" stroke-linejoin="round"/>
<path d="M391.4 514.6C392.5 513.6 393.7 515 394.8 515.4C395.9 515.8 397.3 515.6 398 517.3C398.7 519 398.9 522.8 399 525.5C399.1 528.2 398.1 530.8 398.6 533.3C399.1 535.8 400.8 537.9 402 540.2C403.2 542.5 405.2 545 405.9 547.1C406.6 549.2 406.4 551 406.2 553C406 555 405.6 556.2 404.9 558.8C404.2 561.4 403.3 565.6 402 568.6C400.7 571.6 399 574.2 397 576.5C395 578.8 391.7 580.8 390.2 582.4C388.7 584 388.3 585 387.8 586.3C387.3 587.6 387.6 588.4 387.3 590.2C387.1 592 389.4 596.5 386.3 597.1C383.2 597.8 371.4 595.6 368.6 594.1C365.8 592.6 369.5 589.9 369.6 588.2C369.7 586.5 369.6 585.3 369.4 584C369.2 582.7 369.3 582.3 368.6 580.4C367.9 578.5 366 574.6 365.3 572.5C364.6 570.4 364.7 569.1 364.6 567.5C364.5 565.9 364.4 565.5 364.7 562.7C365 560 366.2 553.9 366.7 551C367.2 548.1 367.3 547.1 367.8 545.5C368.3 543.9 368.3 542.7 369.6 541.2C370.9 539.7 373.4 537.9 375.5 536.3C377.6 534.7 380.3 533.8 382.4 531.4C384.5 529 386.7 524.4 388.2 521.6C389.7 518.8 390.3 515.6 391.4 514.6Z" fill="#17a5e3" stroke="#161616" stroke-width="2.1" stroke-linejoin="round"/>
<path d="M370.5 546 Q366.8 560 368 571 Q370 577 372 581 Q369.5 570 370.2 560 Q370.6 552 373 545Z" fill="#62c4ef" opacity=".9"/>
<path d="M372 582 Q380 586 388 580 Q384 588 385.5 593 L371.5 590.5 Q372.5 586 372 582Z" fill="#4db9eb" opacity=".8"/>
<path d="M400 541 Q404.5 548 403.6 556 Q402.5 563 399.5 569 Q401.5 560 401.3 553 Q401 546 398.5 541Z" fill="#62c4ef" opacity=".8"/>
<rect x="-8.5" y="-3.6" width="17" height="7.2" rx="3.6" transform="translate(388.2 547.1) rotate(13)" fill="#6cc6ee" stroke="#0c3b5a" stroke-width="1.2"/>
<rect x="-9.5" y="-4" width="19" height="8" rx="4" transform="translate(382.4 569) rotate(13)" fill="#6cc6ee" stroke="#0c3b5a" stroke-width="1.2"/>
<rect x="-3.2" y="-27.9" width="6.4" height="55.8" rx="3.2" transform="translate(540.1 429) rotate(-5.5)" fill="#17a5e3" stroke="#161616" stroke-width="1.9"/>
<path d="M504 417.4 L535 414.6 L538 444.4 L506.2 448 Q501 448.4 500.5 443.5 L499 422.6 Q498.9 417.9 504 417.4Z" fill="url(#gConn)" stroke="#161616" stroke-width="2.4"/>
<path d="M490 441.7 L533 437" fill="none" stroke="#2e2417" stroke-width="4.9"/>
<path d="M490 441.7 L533 437" fill="none" stroke="#f4d9a6" stroke-width="2.7"/>
<path d="M540.5 419.8C542.7 419.5 549 418.4 553.5 417.9C558 417.4 562.7 416.9 567.3 416.8C571.9 416.7 577.2 417 581.1 417.5C585 418 587.3 418.7 590.4 419.8C593.5 420.9 596.5 422.1 599.6 423.9C602.7 425.7 606 428.1 608.8 430.8C611.6 433.5 614.2 437.2 616.2 440.1C618.2 443 619.6 445.9 620.8 448.4C621.9 450.8 622.6 453.4 623.1 454.8C623.6 456.2 623.5 456.2 623.6 456.5L605.3 460.2C605 459.6 604.6 458.5 603.3 456.7C602 454.9 599.9 451.6 597.7 449.3C595.6 447 593.2 444.7 590.4 442.8C587.6 440.9 584.2 438.9 581.1 437.7C578 436.5 575.7 435.8 571.9 435.4C568.1 434.9 562.9 434.8 558.1 435C553.3 435.2 545.8 436.5 543.3 436.8Z" fill="#dce3e9" fill-opacity=".95" stroke="#161616" stroke-width="2.2" stroke-linejoin="round"/>
<path d="M541.2 424.7C543.4 424.4 549.7 423.4 554.1 422.9C558.4 422.4 563 421.9 567.4 421.8C571.8 421.7 576.9 422 580.5 422.5C584 422.9 586 423.6 588.8 424.5C591.5 425.5 594.3 426.5 597 428.2C599.8 429.8 602.8 431.9 605.3 434.4C607.8 436.8 610.2 440.2 612.1 442.9C613.9 445.6 615.2 448.3 616.3 450.5C617.3 452.8 618 455.5 618.4 456.5" fill="none" stroke="#f7fafc" stroke-width="5" opacity=".8"/>
<path d="M542 430.2C544.1 429.9 550.4 428.8 554.7 428.3C558.9 427.9 563.3 427.4 567.5 427.3C571.6 427.2 576.5 427.5 579.7 427.9C583 428.3 584.6 428.9 587 429.7C589.4 430.6 591.8 431.5 594.2 432.9C596.6 434.3 599.2 436.1 601.5 438.3C603.7 440.5 605.9 443.6 607.5 446C609.2 448.4 610.3 450.8 611.3 452.9C612.2 454.9 612.9 457.4 613.2 458.4" fill="none" stroke="#aeb6bc" stroke-width="1.1"/>
<path d="M542.3 432.3C544.4 432 550.7 430.9 554.9 430.4C559.1 429.9 563.4 429.5 567.5 429.4C571.6 429.3 576.3 429.6 579.5 430C582.6 430.4 584 430.9 586.3 431.7C588.6 432.5 590.8 433.4 593.1 434.7C595.4 436.1 597.9 437.7 600 439.8C602.1 441.9 604.2 444.9 605.8 447.2C607.4 449.5 608.5 451.8 609.4 453.8C610.3 455.7 610.9 458.2 611.2 459.1" fill="none" stroke="#f4f6f7" stroke-width="1.2"/>
<path d="M563.5 417.5 L567 435.5 M569.5 417.3 L573.5 435.8" fill="none" stroke="#9aa3aa" stroke-width=".9" opacity=".7"/>
<rect x="-3.2" y="-22.3" width="6.4" height="44.6" rx="3.2" transform="translate(536.2 429.3) rotate(-6.5)" fill="#17a5e3" stroke="#161616" stroke-width="1.9"/>
<path d="M604.6 458.4 L622.9 454.6 L623.8 458.4 L605.6 462.3Z" fill="#17a5e3" stroke="#161616" stroke-width="1.4" stroke-linejoin="round"/>
<path d="M613.3 519 L632.7 517 L635.1 531 L616.8 533.7Z" fill="#d6ecf8" stroke="#161616" stroke-width="1.6" stroke-linejoin="round"/>
<path d="M613.3 519 L632.7 517 L633.7 523.6 L614.4 525.8Z" fill="#17a5e3"/>
<path d="M614.4 525.8 L633.7 523.6" stroke="#161616" stroke-width="1.4"/>
<path d="M606.5 461.5C607.9 460.9 609.4 460.6 611 460.3C612.6 460 614.3 459.9 616 459.7C617.7 459.5 619.2 459.4 621 459.3C622.8 459.2 624.9 459 626.5 459.3C628.1 459.6 629.4 460.1 630.8 461.3C632.2 462.5 633.9 464.7 635.1 466.3C636.3 467.9 637.2 469.3 638 471C638.8 472.7 639.5 474.5 640.1 476.5C640.7 478.5 641.2 480.9 641.6 483C642 485.1 642.2 487.2 642.3 489.4C642.4 491.6 642.3 493.9 642.2 496C642.1 498.1 641.9 500.2 641.5 502.3C641.1 504.4 640.4 506.6 639.6 508.5C638.8 510.4 637.7 512.2 636.5 513.7C635.3 515.2 633.9 516.4 632.5 517.2C631.1 518.1 629.8 518.4 627.9 518.8C626 519.2 623.4 519.4 621 519.5C618.6 519.6 615.6 519.8 613.6 519.5C611.6 519.2 610.4 518.7 609 518C607.6 517.3 606.3 516.4 605 515.1C603.7 513.8 602.4 512.1 601.3 510.4C600.2 508.7 599.3 507.1 598.6 505.1C597.9 503.1 597.4 500.6 597 498.5C596.6 496.4 596.4 494.4 596.2 492.2C596 489.9 595.7 487.4 595.6 485C595.5 482.6 595.5 480 595.7 477.9C595.9 475.8 596.3 474.2 596.9 472.5C597.5 470.8 598.4 469.3 599.3 467.9C600.2 466.5 601.3 465.1 602.5 464C603.7 462.9 605.1 462.1 606.5 461.5Z" fill="#bdb5b5"/>
<g clip-path="url(#cCuff)">
<ellipse cx="602.5" cy="492" rx="6.5" ry="14" fill="#b2452f" filter="url(#b3)" opacity=".9"/>
<ellipse cx="636" cy="485" rx="6.5" ry="14" fill="#b2452f" filter="url(#b3)" opacity=".9"/>
<path d="M604.2 458 L625.2 455.4 L635 522 L614 524.4Z" fill="#3b4650" filter="url(#b1)" opacity=".9"/>
<path d="M606.9 458 L622.5 456 L632 522 L616.1 524Z" fill="url(#gBlueTube)" filter="url(#b1)"/>
</g>
<path d="M606.5 461.5C607.9 460.9 609.4 460.6 611 460.3C612.6 460 614.3 459.9 616 459.7C617.7 459.5 619.2 459.4 621 459.3C622.8 459.2 624.9 459 626.5 459.3C628.1 459.6 629.4 460.1 630.8 461.3C632.2 462.5 633.9 464.7 635.1 466.3C636.3 467.9 637.2 469.3 638 471C638.8 472.7 639.5 474.5 640.1 476.5C640.7 478.5 641.2 480.9 641.6 483C642 485.1 642.2 487.2 642.3 489.4C642.4 491.6 642.3 493.9 642.2 496C642.1 498.1 641.9 500.2 641.5 502.3C641.1 504.4 640.4 506.6 639.6 508.5C638.8 510.4 637.7 512.2 636.5 513.7C635.3 515.2 633.9 516.4 632.5 517.2C631.1 518.1 629.8 518.4 627.9 518.8C626 519.2 623.4 519.4 621 519.5C618.6 519.6 615.6 519.8 613.6 519.5C611.6 519.2 610.4 518.7 609 518C607.6 517.3 606.3 516.4 605 515.1C603.7 513.8 602.4 512.1 601.3 510.4C600.2 508.7 599.3 507.1 598.6 505.1C597.9 503.1 597.4 500.6 597 498.5C596.6 496.4 596.4 494.4 596.2 492.2C596 489.9 595.7 487.4 595.6 485C595.5 482.6 595.5 480 595.7 477.9C595.9 475.8 596.3 474.2 596.9 472.5C597.5 470.8 598.4 469.3 599.3 467.9C600.2 466.5 601.3 465.1 602.5 464C603.7 462.9 605.1 462.1 606.5 461.5Z" fill="none" stroke="#161616" stroke-width="1.9"/>
<path d="M734.4 294.6L605.9 393" stroke="#fff" stroke-width="1.2" transform="translate(.8 1.1)"/>
<path d="M734.4 294.6L605.9 393" stroke="#161616" stroke-width="1.25"/>
<path d="M749.6 461L642.6 489.6" stroke="#161616" stroke-width="1.25"/>
<path d="M464 350.5L551.2 407.6" stroke="#161616" stroke-width="1.25"/>
<path d="M406.7 403.2L517.6 424.7" stroke="#161616" stroke-width="1.25"/>
</svg>
<div class="lbl" id="l1" style="left:322.7px;top:336.6px;">Tracheostomy</div>
<div class="lbl" id="l2" style="left:213.3px;top:391.5px;word-spacing:3.4px;">Tracheostomy tube</div>
<div class="lbl" id="l3" style="left:733.8px;top:280.1px;letter-spacing:-.4px;">Trachea</div>
<div class="lbl" id="l4" style="left:757.3px;top:450.4px;letter-spacing:.6px;">Cuff</div>
<div class="cap" id="cap" style="left:19.2px;color:#2a2a2a;font-weight:bold;transform:scaleX(1);">Figure 2.</div>
<div class="cap" id="cap2" style="left:69.6px;transform:scaleX(1.047);">Cuffed tracheostomy within trachea directs airflow away from larynx and upper airway</div>
<div class="rule"></div>
<div class="copy" id="copy">Copyright: hfsimaging/123RF Stock Photo 123rf.com</div>
</body></html>
